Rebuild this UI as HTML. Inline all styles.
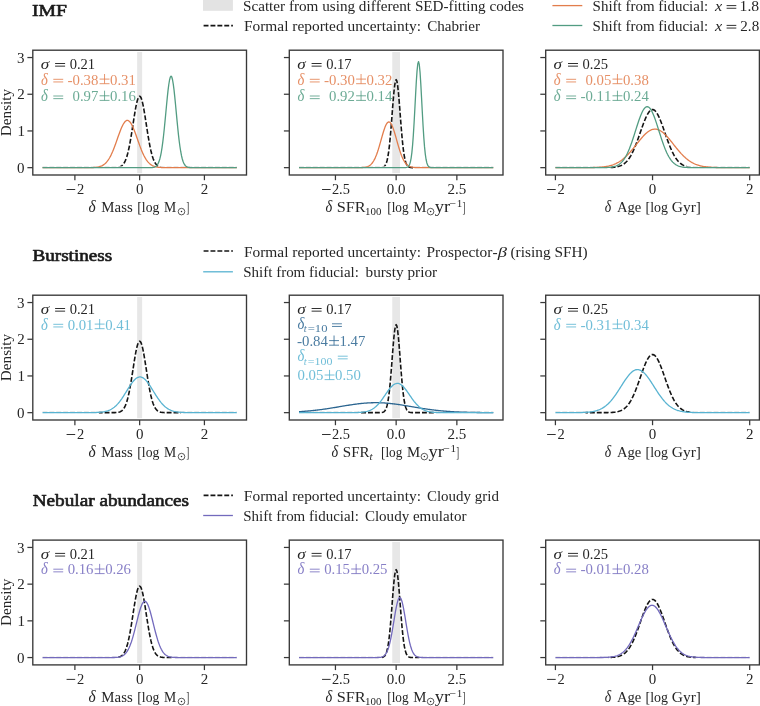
<!DOCTYPE html>
<html><head><meta charset="utf-8"><style>
html,body{margin:0;padding:0;background:#fff;overflow:hidden;}
svg{display:block;will-change:transform;}
text{font-family:"Liberation Serif", serif; font-kerning:none; font-variant-ligatures:none;}
text.t{stroke:#1a1a1a;stroke-width:0.6px;stroke-linejoin:round;}
</style></head><body>
<svg width="760" height="706" viewBox="0 0 760 706">
<rect width="760" height="706" fill="#fff"/>
<rect x="137.16" y="52.04" width="4.99" height="121.13" fill="#e7e7e7"/>
<mask id="m00" maskUnits="userSpaceOnUse" x="0" y="0" width="760" height="706"><rect width="760" height="706" fill="#fff"/><rect x="40.51" y="166.36" width="113.03" height="2.6" fill="#000"/><rect x="159.37" y="166.36" width="95.61" height="2.6" fill="#000"/></mask>
<g mask="url(#m00)">
<path d="M42.51,167.66L43.26,167.66L44.01,167.66L44.76,167.66L45.50,167.66L46.25,167.66L47.00,167.66L47.74,167.66L48.49,167.66L49.24,167.66L49.99,167.66L50.73,167.66L51.48,167.66L52.23,167.66L52.97,167.66L53.72,167.66L54.47,167.66L55.22,167.66L55.96,167.66L56.71,167.66L57.46,167.66L58.20,167.66L58.95,167.66L59.70,167.66L60.45,167.66L61.19,167.66L61.94,167.66L62.69,167.66L63.44,167.66L64.18,167.66L64.93,167.66L65.68,167.66L66.42,167.66L67.17,167.66L67.92,167.66L68.67,167.66L69.41,167.66L70.16,167.66L70.91,167.66L71.65,167.66L72.40,167.66L73.15,167.66L73.90,167.66L74.64,167.66L75.39,167.66L76.14,167.66L76.88,167.66L77.63,167.66L78.38,167.66L79.13,167.66L79.87,167.66L80.62,167.66L81.37,167.66L82.12,167.66L82.86,167.66L83.61,167.66L84.36,167.66L85.10,167.66L85.85,167.66L86.60,167.66L87.35,167.66L88.09,167.66L88.84,167.66L89.59,167.66L90.33,167.66L91.08,167.66L91.83,167.66L92.58,167.66L93.32,167.66L94.07,167.66L94.82,167.66L95.57,167.66L96.31,167.66L97.06,167.66L97.81,167.66L98.55,167.66L99.30,167.66L100.05,167.66L100.80,167.66L101.54,167.66L102.29,167.66L103.04,167.66L103.78,167.66L104.53,167.66L105.28,167.66L106.03,167.66L106.77,167.66L107.52,167.66L108.27,167.66L109.01,167.66L109.76,167.66L110.51,167.65L111.26,167.65L112.00,167.65L112.75,167.64L113.50,167.63L114.25,167.61L114.99,167.59L115.74,167.55L116.49,167.50L117.23,167.42L117.98,167.31L118.73,167.16L119.48,166.95L120.22,166.67L120.97,166.30L121.72,165.80L122.46,165.16L123.21,164.33L123.96,163.29L124.71,161.99L125.45,160.41L126.20,158.49L126.95,156.21L127.69,153.55L128.44,150.49L129.19,147.03L129.94,143.18L130.68,138.97L131.43,134.47L132.18,129.75L132.93,124.90L133.67,120.04L134.42,115.29L135.17,110.80L135.91,106.69L136.66,103.11L137.41,100.19L138.16,98.01L138.90,96.68L139.65,96.23L140.40,96.68L141.14,98.01L141.89,100.19L142.64,103.11L143.39,106.69L144.13,110.80L144.88,115.29L145.63,120.04L146.37,124.90L147.12,129.75L147.87,134.47L148.62,138.97L149.36,143.18L150.11,147.03L150.86,150.49L151.61,153.55L152.35,156.21L153.10,158.49L153.85,160.41L154.59,161.99L155.34,163.29L156.09,164.33L156.84,165.16L157.58,165.80L158.33,166.30L159.08,166.67L159.82,166.95L160.57,167.16L161.32,167.31L162.07,167.42L162.81,167.50L163.56,167.55L164.31,167.59L165.05,167.61L165.80,167.63L166.55,167.64L167.30,167.65L168.04,167.65L168.79,167.65L169.54,167.66L170.29,167.66L171.03,167.66L171.78,167.66L172.53,167.66L173.27,167.66L174.02,167.66L174.77,167.66L175.52,167.66L176.26,167.66L177.01,167.66L177.76,167.66L178.50,167.66L179.25,167.66L180.00,167.66L180.75,167.66L181.49,167.66L182.24,167.66L182.99,167.66L183.73,167.66L184.48,167.66L185.23,167.66L185.98,167.66L186.72,167.66L187.47,167.66L188.22,167.66L188.97,167.66L189.71,167.66L190.46,167.66L191.21,167.66L191.95,167.66L192.70,167.66L193.45,167.66L194.20,167.66L194.94,167.66L195.69,167.66L196.44,167.66L197.18,167.66L197.93,167.66L198.68,167.66L199.43,167.66L200.17,167.66L200.92,167.66L201.67,167.66L202.42,167.66L203.16,167.66L203.91,167.66L204.66,167.66L205.40,167.66L206.15,167.66L206.90,167.66L207.65,167.66L208.39,167.66L209.14,167.66L209.89,167.66L210.63,167.66L211.38,167.66L212.13,167.66L212.88,167.66L213.62,167.66L214.37,167.66L215.12,167.66L215.86,167.66L216.61,167.66L217.36,167.66L218.11,167.66L218.85,167.66L219.60,167.66L220.35,167.66L221.10,167.66L221.84,167.66L222.59,167.66L223.34,167.66L224.08,167.66L224.83,167.66L225.58,167.66L226.33,167.66L227.07,167.66L227.82,167.66L228.57,167.66L229.31,167.66L230.06,167.66L230.81,167.66L231.56,167.66L232.30,167.66L233.05,167.66L233.80,167.66L234.54,167.66L235.29,167.66L236.04,167.66L236.79,167.66" fill="none" stroke="#141414" stroke-width="1.6" stroke-dasharray="4.9,2.0" stroke-linejoin="round"/>
</g>
<path d="M42.51,167.66L43.26,167.66L44.01,167.66L44.76,167.66L45.50,167.66L46.25,167.66L47.00,167.66L47.74,167.66L48.49,167.66L49.24,167.66L49.99,167.66L50.73,167.66L51.48,167.66L52.23,167.66L52.97,167.66L53.72,167.66L54.47,167.66L55.22,167.66L55.96,167.66L56.71,167.66L57.46,167.66L58.20,167.66L58.95,167.66L59.70,167.66L60.45,167.66L61.19,167.66L61.94,167.66L62.69,167.66L63.44,167.66L64.18,167.66L64.93,167.66L65.68,167.66L66.42,167.66L67.17,167.66L67.92,167.66L68.67,167.66L69.41,167.66L70.16,167.66L70.91,167.66L71.65,167.66L72.40,167.66L73.15,167.66L73.90,167.66L74.64,167.66L75.39,167.66L76.14,167.66L76.88,167.66L77.63,167.66L78.38,167.66L79.13,167.66L79.87,167.66L80.62,167.66L81.37,167.66L82.12,167.66L82.86,167.66L83.61,167.66L84.36,167.65L85.10,167.65L85.85,167.65L86.60,167.65L87.35,167.64L88.09,167.64L88.84,167.63L89.59,167.62L90.33,167.61L91.08,167.59L91.83,167.57L92.58,167.54L93.32,167.51L94.07,167.46L94.82,167.41L95.57,167.34L96.31,167.26L97.06,167.16L97.81,167.04L98.55,166.89L99.30,166.71L100.05,166.49L100.80,166.23L101.54,165.92L102.29,165.56L103.04,165.14L103.78,164.65L104.53,164.09L105.28,163.44L106.03,162.71L106.77,161.88L107.52,160.94L108.27,159.90L109.01,158.75L109.76,157.48L110.51,156.09L111.26,154.59L112.00,152.97L112.75,151.25L113.50,149.42L114.25,147.51L114.99,145.51L115.74,143.45L116.49,141.35L117.23,139.22L117.98,137.09L118.73,134.98L119.48,132.92L120.22,130.94L120.97,129.05L121.72,127.29L122.46,125.69L123.21,124.26L123.96,123.04L124.71,122.03L125.45,121.25L126.20,120.73L126.95,120.46L127.69,120.45L128.44,120.70L129.19,121.21L129.94,121.97L130.68,122.96L131.43,124.18L132.18,125.59L132.93,127.18L133.67,128.93L134.42,130.81L135.17,132.79L135.91,134.84L136.66,136.95L137.41,139.08L138.16,141.21L138.90,143.31L139.65,145.37L140.40,147.37L141.14,149.30L141.89,151.13L142.64,152.86L143.39,154.48L144.13,155.99L144.88,157.39L145.63,158.66L146.37,159.83L147.12,160.88L147.87,161.82L148.62,162.66L149.36,163.40L150.11,164.05L150.86,164.62L151.61,165.11L152.35,165.54L153.10,165.90L153.85,166.21L154.59,166.47L155.34,166.69L156.09,166.88L156.84,167.03L157.58,167.15L158.33,167.26L159.08,167.34L159.82,167.41L160.57,167.46L161.32,167.51L162.07,167.54L162.81,167.57L163.56,167.59L164.31,167.61L165.05,167.62L165.80,167.63L166.55,167.64L167.30,167.64L168.04,167.65L168.79,167.65L169.54,167.65L170.29,167.65L171.03,167.66L171.78,167.66L172.53,167.66L173.27,167.66L174.02,167.66L174.77,167.66L175.52,167.66L176.26,167.66L177.01,167.66L177.76,167.66L178.50,167.66L179.25,167.66L180.00,167.66L180.75,167.66L181.49,167.66L182.24,167.66L182.99,167.66L183.73,167.66L184.48,167.66L185.23,167.66L185.98,167.66L186.72,167.66L187.47,167.66L188.22,167.66L188.97,167.66L189.71,167.66L190.46,167.66L191.21,167.66L191.95,167.66L192.70,167.66L193.45,167.66L194.20,167.66L194.94,167.66L195.69,167.66L196.44,167.66L197.18,167.66L197.93,167.66L198.68,167.66L199.43,167.66L200.17,167.66L200.92,167.66L201.67,167.66L202.42,167.66L203.16,167.66L203.91,167.66L204.66,167.66L205.40,167.66L206.15,167.66L206.90,167.66L207.65,167.66L208.39,167.66L209.14,167.66L209.89,167.66L210.63,167.66L211.38,167.66L212.13,167.66L212.88,167.66L213.62,167.66L214.37,167.66L215.12,167.66L215.86,167.66L216.61,167.66L217.36,167.66L218.11,167.66L218.85,167.66L219.60,167.66L220.35,167.66L221.10,167.66L221.84,167.66L222.59,167.66L223.34,167.66L224.08,167.66L224.83,167.66L225.58,167.66L226.33,167.66L227.07,167.66L227.82,167.66L228.57,167.66L229.31,167.66L230.06,167.66L230.81,167.66L231.56,167.66L232.30,167.66L233.05,167.66L233.80,167.66L234.54,167.66L235.29,167.66L236.04,167.66L236.79,167.66" fill="none" stroke="#e27d4c" stroke-width="1.3" stroke-linejoin="round"/>
<path d="M42.51,167.66L43.26,167.66L44.01,167.66L44.76,167.66L45.50,167.66L46.25,167.66L47.00,167.66L47.74,167.66L48.49,167.66L49.24,167.66L49.99,167.66L50.73,167.66L51.48,167.66L52.23,167.66L52.97,167.66L53.72,167.66L54.47,167.66L55.22,167.66L55.96,167.66L56.71,167.66L57.46,167.66L58.20,167.66L58.95,167.66L59.70,167.66L60.45,167.66L61.19,167.66L61.94,167.66L62.69,167.66L63.44,167.66L64.18,167.66L64.93,167.66L65.68,167.66L66.42,167.66L67.17,167.66L67.92,167.66L68.67,167.66L69.41,167.66L70.16,167.66L70.91,167.66L71.65,167.66L72.40,167.66L73.15,167.66L73.90,167.66L74.64,167.66L75.39,167.66L76.14,167.66L76.88,167.66L77.63,167.66L78.38,167.66L79.13,167.66L79.87,167.66L80.62,167.66L81.37,167.66L82.12,167.66L82.86,167.66L83.61,167.66L84.36,167.66L85.10,167.66L85.85,167.66L86.60,167.66L87.35,167.66L88.09,167.66L88.84,167.66L89.59,167.66L90.33,167.66L91.08,167.66L91.83,167.66L92.58,167.66L93.32,167.66L94.07,167.66L94.82,167.66L95.57,167.66L96.31,167.66L97.06,167.66L97.81,167.66L98.55,167.66L99.30,167.66L100.05,167.66L100.80,167.66L101.54,167.66L102.29,167.66L103.04,167.66L103.78,167.66L104.53,167.66L105.28,167.66L106.03,167.66L106.77,167.66L107.52,167.66L108.27,167.66L109.01,167.66L109.76,167.66L110.51,167.66L111.26,167.66L112.00,167.66L112.75,167.66L113.50,167.66L114.25,167.66L114.99,167.66L115.74,167.66L116.49,167.66L117.23,167.66L117.98,167.66L118.73,167.66L119.48,167.66L120.22,167.66L120.97,167.66L121.72,167.66L122.46,167.66L123.21,167.66L123.96,167.66L124.71,167.66L125.45,167.66L126.20,167.66L126.95,167.66L127.69,167.66L128.44,167.66L129.19,167.66L129.94,167.66L130.68,167.66L131.43,167.66L132.18,167.66L132.93,167.66L133.67,167.66L134.42,167.66L135.17,167.66L135.91,167.66L136.66,167.66L137.41,167.66L138.16,167.66L138.90,167.66L139.65,167.66L140.40,167.66L141.14,167.66L141.89,167.66L142.64,167.66L143.39,167.66L144.13,167.66L144.88,167.66L145.63,167.66L146.37,167.66L147.12,167.66L147.87,167.65L148.62,167.65L149.36,167.64L150.11,167.63L150.86,167.61L151.61,167.58L152.35,167.52L153.10,167.43L153.85,167.29L154.59,167.07L155.34,166.74L156.09,166.25L156.84,165.54L157.58,164.55L158.33,163.18L159.08,161.34L159.82,158.94L160.57,155.86L161.32,152.02L162.07,147.36L162.81,141.86L163.56,135.54L164.31,128.49L165.05,120.88L165.80,112.95L166.55,104.98L167.30,97.34L168.04,90.38L168.79,84.49L169.54,79.99L170.29,77.15L171.03,76.14L171.78,77.02L172.53,79.75L173.27,84.14L174.02,89.95L174.77,96.85L175.52,104.46L176.26,112.41L177.01,120.36L177.76,128.00L178.50,135.09L179.25,141.46L180.00,147.02L180.75,151.74L181.49,155.63L182.24,158.75L182.99,161.20L183.73,163.08L184.48,164.47L185.23,165.49L185.98,166.21L186.72,166.71L187.47,167.05L188.22,167.28L188.97,167.43L189.71,167.52L190.46,167.58L191.21,167.61L191.95,167.63L192.70,167.64L193.45,167.65L194.20,167.65L194.94,167.66L195.69,167.66L196.44,167.66L197.18,167.66L197.93,167.66L198.68,167.66L199.43,167.66L200.17,167.66L200.92,167.66L201.67,167.66L202.42,167.66L203.16,167.66L203.91,167.66L204.66,167.66L205.40,167.66L206.15,167.66L206.90,167.66L207.65,167.66L208.39,167.66L209.14,167.66L209.89,167.66L210.63,167.66L211.38,167.66L212.13,167.66L212.88,167.66L213.62,167.66L214.37,167.66L215.12,167.66L215.86,167.66L216.61,167.66L217.36,167.66L218.11,167.66L218.85,167.66L219.60,167.66L220.35,167.66L221.10,167.66L221.84,167.66L222.59,167.66L223.34,167.66L224.08,167.66L224.83,167.66L225.58,167.66L226.33,167.66L227.07,167.66L227.82,167.66L228.57,167.66L229.31,167.66L230.06,167.66L230.81,167.66L231.56,167.66L232.30,167.66L233.05,167.66L233.80,167.66L234.54,167.66L235.29,167.66L236.04,167.66L236.79,167.66" fill="none" stroke="#529c82" stroke-width="1.3" stroke-linejoin="round"/>
<rect x="32.80" y="50.20" width="213.70" height="124.80" fill="none" stroke="#383838" stroke-width="1.35"/>
<line x1="27.40" y1="167.66" x2="32.80" y2="167.66" stroke="#383838" stroke-width="1.25"/>
<text x="17.07" y="172.76" font-size="15.0" fill="#262626" style="">0</text>
<line x1="27.40" y1="130.95" x2="32.80" y2="130.95" stroke="#383838" stroke-width="1.25"/>
<text x="17.40" y="136.05" font-size="15.0" fill="#262626" style="">1</text>
<line x1="27.40" y1="94.25" x2="32.80" y2="94.25" stroke="#383838" stroke-width="1.25"/>
<text x="17.33" y="99.35" font-size="15.0" fill="#262626" style="">2</text>
<line x1="27.40" y1="57.54" x2="32.80" y2="57.54" stroke="#383838" stroke-width="1.25"/>
<text x="17.09" y="62.64" font-size="15.0" fill="#262626" style="">3</text>
<line x1="74.89" y1="175.00" x2="74.89" y2="180.20" stroke="#383838" stroke-width="1.25"/>
<line x1="66.59" y1="189.50" x2="75.19" y2="189.50" stroke="#262626" stroke-width="0.95" />
<text x="76.96" y="193.70" font-size="15.0" fill="#262626" style="" textLength="7.23" lengthAdjust="spacingAndGlyphs">2</text>
<line x1="139.65" y1="175.00" x2="139.65" y2="180.20" stroke="#383838" stroke-width="1.25"/>
<text x="135.90" y="193.70" font-size="15.0" fill="#262626" style="">0</text>
<line x1="204.41" y1="175.00" x2="204.41" y2="180.20" stroke="#383838" stroke-width="1.25"/>
<text x="200.74" y="193.70" font-size="15.0" fill="#262626" style="">2</text>
<text x="40.69" y="68.70" font-size="15.0" fill="#262626" style="font-style:italic;" textLength="8.47" lengthAdjust="spacingAndGlyphs">σ</text>
<g stroke="#262626" stroke-width="0.95"><line x1="55.10" y1="63.50" x2="65.10" y2="63.50"/><line x1="55.10" y1="66.15" x2="65.10" y2="66.15"/></g>
<text x="69.65" y="68.70" font-size="15.0" fill="#262626" style="" textLength="25.46" lengthAdjust="spacingAndGlyphs">0.21</text>
<text fill-opacity="0.85" x="40.97" y="84.50" font-size="16.3" fill="#e27d4c" style="font-style:italic;" textLength="6.84" lengthAdjust="spacingAndGlyphs">δ</text>
<g stroke="#e27d4c" stroke-width="0.95" stroke-opacity="0.85"><line x1="53.30" y1="79.30" x2="63.20" y2="79.30"/><line x1="53.30" y1="81.95" x2="63.20" y2="81.95"/></g>
<text fill-opacity="0.85" x="67.53" y="84.50" font-size="15.0" fill="#e27d4c" style="" textLength="5.13" lengthAdjust="spacingAndGlyphs">-</text>
<text x="72.54" y="84.50" font-size="15.0" fill="#e27d4c" fill-opacity="0.85" textLength="25.86" lengthAdjust="spacingAndGlyphs">0.38</text>
<g stroke="#e27d4c" stroke-width="0.95" stroke-opacity="0.85"><line x1="99.60" y1="79.10" x2="109.50" y2="79.10"/><line x1="99.60" y1="83.70" x2="109.50" y2="83.70"/><line x1="104.55" y1="74.00" x2="104.55" y2="83.70"/></g>
<text x="110.04" y="84.50" font-size="15.0" fill="#e27d4c" fill-opacity="0.85" textLength="25.86" lengthAdjust="spacingAndGlyphs">0.31</text>
<text fill-opacity="0.85" x="40.97" y="101.20" font-size="16.3" fill="#529c82" style="font-style:italic;" textLength="6.84" lengthAdjust="spacingAndGlyphs">δ</text>
<g stroke="#529c82" stroke-width="0.95" stroke-opacity="0.85"><line x1="53.30" y1="96.00" x2="63.20" y2="96.00"/><line x1="53.30" y1="98.65" x2="63.20" y2="98.65"/></g>
<text x="72.54" y="101.20" font-size="15.0" fill="#529c82" fill-opacity="0.85" textLength="25.86" lengthAdjust="spacingAndGlyphs">0.97</text>
<g stroke="#529c82" stroke-width="0.95" stroke-opacity="0.85"><line x1="99.60" y1="95.80" x2="109.50" y2="95.80"/><line x1="99.60" y1="100.40" x2="109.50" y2="100.40"/><line x1="104.55" y1="90.70" x2="104.55" y2="100.40"/></g>
<text x="110.04" y="101.20" font-size="15.0" fill="#529c82" fill-opacity="0.85" textLength="25.86" lengthAdjust="spacingAndGlyphs">0.16</text>
<text x="88.55" y="212.20" font-size="16.3" fill="#262626" style="font-style:italic;" textLength="7.15" lengthAdjust="spacingAndGlyphs">δ</text>
<text x="101.37" y="212.20" font-size="15.6" fill="#262626" style="" textLength="31.36" lengthAdjust="spacingAndGlyphs">Mass</text>
<text x="137.28" y="212.20" font-size="15.6" fill="#262626" style="" textLength="22.08" lengthAdjust="spacingAndGlyphs">[log</text>
<text x="164.00" y="212.20" font-size="15.6" fill="#262626" style="" textLength="12.20" lengthAdjust="spacingAndGlyphs">M</text>
<circle cx="181.50" cy="211.60" r="3.3" fill="none" stroke="#262626" stroke-width="0.75"/>
<circle cx="181.50" cy="211.60" r="0.75" fill="#262626"/>
<text x="186.18" y="212.20" font-size="15.0" fill="#262626" style="" textLength="2.99" lengthAdjust="spacingAndGlyphs">]</text>
<rect x="392.26" y="52.04" width="7.77" height="121.13" fill="#e7e7e7"/>
<mask id="m01" maskUnits="userSpaceOnUse" x="0" y="0" width="760" height="706"><rect width="760" height="706" fill="#fff"/><rect x="297.01" y="166.36" width="110.02" height="2.6" fill="#000"/><rect x="413.54" y="166.36" width="93.89" height="2.6" fill="#000"/></mask>
<g mask="url(#m01)">
<path d="M299.01,167.66L299.76,167.66L300.51,167.66L301.26,167.66L302.00,167.66L302.75,167.66L303.50,167.66L304.24,167.66L304.99,167.66L305.74,167.66L306.49,167.66L307.23,167.66L307.98,167.66L308.73,167.66L309.47,167.66L310.22,167.66L310.97,167.66L311.72,167.66L312.46,167.66L313.21,167.66L313.96,167.66L314.70,167.66L315.45,167.66L316.20,167.66L316.95,167.66L317.69,167.66L318.44,167.66L319.19,167.66L319.94,167.66L320.68,167.66L321.43,167.66L322.18,167.66L322.92,167.66L323.67,167.66L324.42,167.66L325.17,167.66L325.91,167.66L326.66,167.66L327.41,167.66L328.15,167.66L328.90,167.66L329.65,167.66L330.40,167.66L331.14,167.66L331.89,167.66L332.64,167.66L333.38,167.66L334.13,167.66L334.88,167.66L335.63,167.66L336.37,167.66L337.12,167.66L337.87,167.66L338.62,167.66L339.36,167.66L340.11,167.66L340.86,167.66L341.60,167.66L342.35,167.66L343.10,167.66L343.85,167.66L344.59,167.66L345.34,167.66L346.09,167.66L346.83,167.66L347.58,167.66L348.33,167.66L349.08,167.66L349.82,167.66L350.57,167.66L351.32,167.66L352.07,167.66L352.81,167.66L353.56,167.66L354.31,167.66L355.05,167.66L355.80,167.66L356.55,167.66L357.30,167.66L358.04,167.66L358.79,167.66L359.54,167.66L360.28,167.66L361.03,167.66L361.78,167.66L362.53,167.66L363.27,167.66L364.02,167.66L364.77,167.66L365.51,167.66L366.26,167.66L367.01,167.66L367.76,167.66L368.50,167.66L369.25,167.66L370.00,167.66L370.75,167.66L371.49,167.66L372.24,167.66L372.99,167.66L373.73,167.66L374.48,167.66L375.23,167.66L375.98,167.66L376.72,167.66L377.47,167.66L378.22,167.65L378.96,167.65L379.71,167.64L380.46,167.61L381.21,167.56L381.95,167.47L382.70,167.31L383.45,167.03L384.19,166.55L384.94,165.77L385.69,164.56L386.44,162.75L387.18,160.14L387.93,156.52L388.68,151.71L389.43,145.60L390.17,138.17L390.92,129.56L391.67,120.10L392.41,110.27L393.16,100.74L393.91,92.24L394.66,85.52L395.40,81.20L396.15,79.71L396.90,81.20L397.64,85.52L398.39,92.24L399.14,100.74L399.89,110.27L400.63,120.10L401.38,129.56L402.13,138.17L402.87,145.60L403.62,151.71L404.37,156.52L405.12,160.14L405.86,162.75L406.61,164.56L407.36,165.77L408.11,166.55L408.85,167.03L409.60,167.31L410.35,167.47L411.09,167.56L411.84,167.61L412.59,167.64L413.34,167.65L414.08,167.65L414.83,167.66L415.58,167.66L416.32,167.66L417.07,167.66L417.82,167.66L418.57,167.66L419.31,167.66L420.06,167.66L420.81,167.66L421.55,167.66L422.30,167.66L423.05,167.66L423.80,167.66L424.54,167.66L425.29,167.66L426.04,167.66L426.79,167.66L427.53,167.66L428.28,167.66L429.03,167.66L429.77,167.66L430.52,167.66L431.27,167.66L432.02,167.66L432.76,167.66L433.51,167.66L434.26,167.66L435.00,167.66L435.75,167.66L436.50,167.66L437.25,167.66L437.99,167.66L438.74,167.66L439.49,167.66L440.23,167.66L440.98,167.66L441.73,167.66L442.48,167.66L443.22,167.66L443.97,167.66L444.72,167.66L445.47,167.66L446.21,167.66L446.96,167.66L447.71,167.66L448.45,167.66L449.20,167.66L449.95,167.66L450.70,167.66L451.44,167.66L452.19,167.66L452.94,167.66L453.68,167.66L454.43,167.66L455.18,167.66L455.93,167.66L456.67,167.66L457.42,167.66L458.17,167.66L458.92,167.66L459.66,167.66L460.41,167.66L461.16,167.66L461.90,167.66L462.65,167.66L463.40,167.66L464.15,167.66L464.89,167.66L465.64,167.66L466.39,167.66L467.13,167.66L467.88,167.66L468.63,167.66L469.38,167.66L470.12,167.66L470.87,167.66L471.62,167.66L472.36,167.66L473.11,167.66L473.86,167.66L474.61,167.66L475.35,167.66L476.10,167.66L476.85,167.66L477.60,167.66L478.34,167.66L479.09,167.66L479.84,167.66L480.58,167.66L481.33,167.66L482.08,167.66L482.83,167.66L483.57,167.66L484.32,167.66L485.07,167.66L485.81,167.66L486.56,167.66L487.31,167.66L488.06,167.66L488.80,167.66L489.55,167.66L490.30,167.66L491.04,167.66L491.79,167.66L492.54,167.66L493.29,167.66" fill="none" stroke="#141414" stroke-width="1.6" stroke-dasharray="4.9,2.0" stroke-linejoin="round"/>
</g>
<path d="M299.01,167.66L299.76,167.66L300.51,167.66L301.26,167.66L302.00,167.66L302.75,167.66L303.50,167.66L304.24,167.66L304.99,167.66L305.74,167.66L306.49,167.66L307.23,167.66L307.98,167.66L308.73,167.66L309.47,167.66L310.22,167.66L310.97,167.66L311.72,167.66L312.46,167.66L313.21,167.66L313.96,167.66L314.70,167.66L315.45,167.66L316.20,167.66L316.95,167.66L317.69,167.66L318.44,167.66L319.19,167.66L319.94,167.66L320.68,167.66L321.43,167.66L322.18,167.66L322.92,167.66L323.67,167.66L324.42,167.66L325.17,167.66L325.91,167.66L326.66,167.66L327.41,167.66L328.15,167.66L328.90,167.66L329.65,167.66L330.40,167.66L331.14,167.66L331.89,167.66L332.64,167.66L333.38,167.66L334.13,167.66L334.88,167.66L335.63,167.66L336.37,167.66L337.12,167.66L337.87,167.66L338.62,167.66L339.36,167.66L340.11,167.66L340.86,167.66L341.60,167.66L342.35,167.66L343.10,167.66L343.85,167.66L344.59,167.66L345.34,167.66L346.09,167.66L346.83,167.66L347.58,167.66L348.33,167.66L349.08,167.66L349.82,167.66L350.57,167.66L351.32,167.66L352.07,167.66L352.81,167.66L353.56,167.66L354.31,167.66L355.05,167.66L355.80,167.65L356.55,167.65L357.30,167.65L358.04,167.64L358.79,167.63L359.54,167.62L360.28,167.61L361.03,167.58L361.78,167.55L362.53,167.51L363.27,167.46L364.02,167.38L364.77,167.29L365.51,167.16L366.26,166.99L367.01,166.78L367.76,166.52L368.50,166.18L369.25,165.77L370.00,165.26L370.75,164.64L371.49,163.90L372.24,163.02L372.99,161.98L373.73,160.78L374.48,159.41L375.23,157.85L375.98,156.10L376.72,154.16L377.47,152.04L378.22,149.76L378.96,147.33L379.71,144.79L380.46,142.17L381.21,139.50L381.95,136.85L382.70,134.25L383.45,131.77L384.19,129.46L384.94,127.37L385.69,125.56L386.44,124.08L387.18,122.96L387.93,122.23L388.68,121.91L389.43,122.02L390.17,122.54L390.92,123.47L391.67,124.78L392.41,126.43L393.16,128.38L393.91,130.59L394.66,132.99L395.40,135.54L396.15,138.17L396.90,140.84L397.64,143.49L398.39,146.08L399.14,148.56L399.89,150.92L400.63,153.12L401.38,155.15L402.13,156.99L402.87,158.65L403.62,160.12L404.37,161.41L405.12,162.52L405.86,163.48L406.61,164.29L407.36,164.96L408.11,165.52L408.85,165.98L409.60,166.36L410.35,166.66L411.09,166.89L411.84,167.08L412.59,167.23L413.34,167.34L414.08,167.42L414.83,167.49L415.58,167.53L416.32,167.57L417.07,167.60L417.82,167.61L418.57,167.63L419.31,167.64L420.06,167.64L420.81,167.65L421.55,167.65L422.30,167.65L423.05,167.66L423.80,167.66L424.54,167.66L425.29,167.66L426.04,167.66L426.79,167.66L427.53,167.66L428.28,167.66L429.03,167.66L429.77,167.66L430.52,167.66L431.27,167.66L432.02,167.66L432.76,167.66L433.51,167.66L434.26,167.66L435.00,167.66L435.75,167.66L436.50,167.66L437.25,167.66L437.99,167.66L438.74,167.66L439.49,167.66L440.23,167.66L440.98,167.66L441.73,167.66L442.48,167.66L443.22,167.66L443.97,167.66L444.72,167.66L445.47,167.66L446.21,167.66L446.96,167.66L447.71,167.66L448.45,167.66L449.20,167.66L449.95,167.66L450.70,167.66L451.44,167.66L452.19,167.66L452.94,167.66L453.68,167.66L454.43,167.66L455.18,167.66L455.93,167.66L456.67,167.66L457.42,167.66L458.17,167.66L458.92,167.66L459.66,167.66L460.41,167.66L461.16,167.66L461.90,167.66L462.65,167.66L463.40,167.66L464.15,167.66L464.89,167.66L465.64,167.66L466.39,167.66L467.13,167.66L467.88,167.66L468.63,167.66L469.38,167.66L470.12,167.66L470.87,167.66L471.62,167.66L472.36,167.66L473.11,167.66L473.86,167.66L474.61,167.66L475.35,167.66L476.10,167.66L476.85,167.66L477.60,167.66L478.34,167.66L479.09,167.66L479.84,167.66L480.58,167.66L481.33,167.66L482.08,167.66L482.83,167.66L483.57,167.66L484.32,167.66L485.07,167.66L485.81,167.66L486.56,167.66L487.31,167.66L488.06,167.66L488.80,167.66L489.55,167.66L490.30,167.66L491.04,167.66L491.79,167.66L492.54,167.66L493.29,167.66" fill="none" stroke="#e27d4c" stroke-width="1.3" stroke-linejoin="round"/>
<path d="M299.01,167.66L299.76,167.66L300.51,167.66L301.26,167.66L302.00,167.66L302.75,167.66L303.50,167.66L304.24,167.66L304.99,167.66L305.74,167.66L306.49,167.66L307.23,167.66L307.98,167.66L308.73,167.66L309.47,167.66L310.22,167.66L310.97,167.66L311.72,167.66L312.46,167.66L313.21,167.66L313.96,167.66L314.70,167.66L315.45,167.66L316.20,167.66L316.95,167.66L317.69,167.66L318.44,167.66L319.19,167.66L319.94,167.66L320.68,167.66L321.43,167.66L322.18,167.66L322.92,167.66L323.67,167.66L324.42,167.66L325.17,167.66L325.91,167.66L326.66,167.66L327.41,167.66L328.15,167.66L328.90,167.66L329.65,167.66L330.40,167.66L331.14,167.66L331.89,167.66L332.64,167.66L333.38,167.66L334.13,167.66L334.88,167.66L335.63,167.66L336.37,167.66L337.12,167.66L337.87,167.66L338.62,167.66L339.36,167.66L340.11,167.66L340.86,167.66L341.60,167.66L342.35,167.66L343.10,167.66L343.85,167.66L344.59,167.66L345.34,167.66L346.09,167.66L346.83,167.66L347.58,167.66L348.33,167.66L349.08,167.66L349.82,167.66L350.57,167.66L351.32,167.66L352.07,167.66L352.81,167.66L353.56,167.66L354.31,167.66L355.05,167.66L355.80,167.66L356.55,167.66L357.30,167.66L358.04,167.66L358.79,167.66L359.54,167.66L360.28,167.66L361.03,167.66L361.78,167.66L362.53,167.66L363.27,167.66L364.02,167.66L364.77,167.66L365.51,167.66L366.26,167.66L367.01,167.66L367.76,167.66L368.50,167.66L369.25,167.66L370.00,167.66L370.75,167.66L371.49,167.66L372.24,167.66L372.99,167.66L373.73,167.66L374.48,167.66L375.23,167.66L375.98,167.66L376.72,167.66L377.47,167.66L378.22,167.66L378.96,167.66L379.71,167.66L380.46,167.66L381.21,167.66L381.95,167.66L382.70,167.66L383.45,167.66L384.19,167.66L384.94,167.66L385.69,167.66L386.44,167.66L387.18,167.66L387.93,167.66L388.68,167.66L389.43,167.66L390.17,167.66L390.92,167.66L391.67,167.66L392.41,167.66L393.16,167.66L393.91,167.66L394.66,167.66L395.40,167.66L396.15,167.66L396.90,167.66L397.64,167.66L398.39,167.66L399.14,167.66L399.89,167.66L400.63,167.66L401.38,167.66L402.13,167.66L402.87,167.66L403.62,167.65L404.37,167.64L405.12,167.62L405.86,167.57L406.61,167.46L407.36,167.23L408.11,166.79L408.85,165.96L409.60,164.52L410.35,162.12L411.09,158.37L411.84,152.84L412.59,145.17L413.34,135.16L414.08,122.99L414.83,109.24L415.58,94.95L416.32,81.56L417.07,70.65L417.82,63.66L418.57,61.57L419.31,64.69L420.06,72.56L420.81,84.09L421.55,97.79L422.30,112.07L423.05,125.58L423.80,137.35L424.54,146.89L425.29,154.11L426.04,159.25L426.79,162.70L427.53,164.87L428.28,166.17L429.03,166.90L429.77,167.29L430.52,167.49L431.27,167.58L432.02,167.63L432.76,167.65L433.51,167.65L434.26,167.66L435.00,167.66L435.75,167.66L436.50,167.66L437.25,167.66L437.99,167.66L438.74,167.66L439.49,167.66L440.23,167.66L440.98,167.66L441.73,167.66L442.48,167.66L443.22,167.66L443.97,167.66L444.72,167.66L445.47,167.66L446.21,167.66L446.96,167.66L447.71,167.66L448.45,167.66L449.20,167.66L449.95,167.66L450.70,167.66L451.44,167.66L452.19,167.66L452.94,167.66L453.68,167.66L454.43,167.66L455.18,167.66L455.93,167.66L456.67,167.66L457.42,167.66L458.17,167.66L458.92,167.66L459.66,167.66L460.41,167.66L461.16,167.66L461.90,167.66L462.65,167.66L463.40,167.66L464.15,167.66L464.89,167.66L465.64,167.66L466.39,167.66L467.13,167.66L467.88,167.66L468.63,167.66L469.38,167.66L470.12,167.66L470.87,167.66L471.62,167.66L472.36,167.66L473.11,167.66L473.86,167.66L474.61,167.66L475.35,167.66L476.10,167.66L476.85,167.66L477.60,167.66L478.34,167.66L479.09,167.66L479.84,167.66L480.58,167.66L481.33,167.66L482.08,167.66L482.83,167.66L483.57,167.66L484.32,167.66L485.07,167.66L485.81,167.66L486.56,167.66L487.31,167.66L488.06,167.66L488.80,167.66L489.55,167.66L490.30,167.66L491.04,167.66L491.79,167.66L492.54,167.66L493.29,167.66" fill="none" stroke="#529c82" stroke-width="1.3" stroke-linejoin="round"/>
<rect x="289.30" y="50.20" width="213.70" height="124.80" fill="none" stroke="#383838" stroke-width="1.35"/>
<line x1="283.90" y1="167.66" x2="289.30" y2="167.66" stroke="#383838" stroke-width="1.25"/>
<line x1="283.90" y1="130.95" x2="289.30" y2="130.95" stroke="#383838" stroke-width="1.25"/>
<line x1="283.90" y1="94.25" x2="289.30" y2="94.25" stroke="#383838" stroke-width="1.25"/>
<line x1="283.90" y1="57.54" x2="289.30" y2="57.54" stroke="#383838" stroke-width="1.25"/>
<line x1="335.44" y1="175.00" x2="335.44" y2="180.20" stroke="#383838" stroke-width="1.25"/>
<line x1="322.04" y1="189.50" x2="330.64" y2="189.50" stroke="#262626" stroke-width="0.95" />
<text x="331.91" y="193.70" font-size="15.0" fill="#262626" style="" textLength="17.99" lengthAdjust="spacingAndGlyphs">2.5</text>
<line x1="396.15" y1="175.00" x2="396.15" y2="180.20" stroke="#383838" stroke-width="1.25"/>
<text x="386.77" y="193.70" font-size="15.0" fill="#262626" style="">0.0</text>
<line x1="456.86" y1="175.00" x2="456.86" y2="180.20" stroke="#383838" stroke-width="1.25"/>
<text x="447.45" y="193.70" font-size="15.0" fill="#262626" style="">2.5</text>
<text x="297.19" y="68.70" font-size="15.0" fill="#262626" style="font-style:italic;" textLength="8.47" lengthAdjust="spacingAndGlyphs">σ</text>
<g stroke="#262626" stroke-width="0.95"><line x1="311.60" y1="63.50" x2="321.60" y2="63.50"/><line x1="311.60" y1="66.15" x2="321.60" y2="66.15"/></g>
<text x="326.15" y="68.70" font-size="15.0" fill="#262626" style="" textLength="25.46" lengthAdjust="spacingAndGlyphs">0.17</text>
<text fill-opacity="0.85" x="297.47" y="84.50" font-size="16.3" fill="#e27d4c" style="font-style:italic;" textLength="6.84" lengthAdjust="spacingAndGlyphs">δ</text>
<g stroke="#e27d4c" stroke-width="0.95" stroke-opacity="0.85"><line x1="309.80" y1="79.30" x2="319.70" y2="79.30"/><line x1="309.80" y1="81.95" x2="319.70" y2="81.95"/></g>
<text fill-opacity="0.85" x="324.03" y="84.50" font-size="15.0" fill="#e27d4c" style="" textLength="5.13" lengthAdjust="spacingAndGlyphs">-</text>
<text x="329.04" y="84.50" font-size="15.0" fill="#e27d4c" fill-opacity="0.85" textLength="25.86" lengthAdjust="spacingAndGlyphs">0.30</text>
<g stroke="#e27d4c" stroke-width="0.95" stroke-opacity="0.85"><line x1="356.10" y1="79.10" x2="366.00" y2="79.10"/><line x1="356.10" y1="83.70" x2="366.00" y2="83.70"/><line x1="361.05" y1="74.00" x2="361.05" y2="83.70"/></g>
<text x="366.54" y="84.50" font-size="15.0" fill="#e27d4c" fill-opacity="0.85" textLength="25.86" lengthAdjust="spacingAndGlyphs">0.32</text>
<text fill-opacity="0.85" x="297.47" y="101.20" font-size="16.3" fill="#529c82" style="font-style:italic;" textLength="6.84" lengthAdjust="spacingAndGlyphs">δ</text>
<g stroke="#529c82" stroke-width="0.95" stroke-opacity="0.85"><line x1="309.80" y1="96.00" x2="319.70" y2="96.00"/><line x1="309.80" y1="98.65" x2="319.70" y2="98.65"/></g>
<text x="329.04" y="101.20" font-size="15.0" fill="#529c82" fill-opacity="0.85" textLength="25.86" lengthAdjust="spacingAndGlyphs">0.92</text>
<g stroke="#529c82" stroke-width="0.95" stroke-opacity="0.85"><line x1="356.10" y1="95.80" x2="366.00" y2="95.80"/><line x1="356.10" y1="100.40" x2="366.00" y2="100.40"/><line x1="361.05" y1="90.70" x2="361.05" y2="100.40"/></g>
<text x="366.54" y="101.20" font-size="15.0" fill="#529c82" fill-opacity="0.85" textLength="25.86" lengthAdjust="spacingAndGlyphs">0.14</text>
<text x="325.58" y="212.20" font-size="16.3" fill="#262626" style="font-style:italic;" textLength="6.73" lengthAdjust="spacingAndGlyphs">δ</text>
<text x="336.71" y="212.20" font-size="15.6" fill="#262626" style="" textLength="29.01" lengthAdjust="spacingAndGlyphs">SFR</text>
<text x="365.04" y="215.20" font-size="10.5" fill="#262626" style="" textLength="16.38" lengthAdjust="spacingAndGlyphs">100</text>
<text x="387.26" y="212.20" font-size="15.6" fill="#262626" style="" textLength="21.39" lengthAdjust="spacingAndGlyphs">[log</text>
<text x="413.17" y="212.20" font-size="15.6" fill="#262626" style="" textLength="13.16" lengthAdjust="spacingAndGlyphs">M</text>
<circle cx="430.60" cy="211.60" r="3.3" fill="none" stroke="#262626" stroke-width="0.75"/>
<circle cx="430.60" cy="211.60" r="0.75" fill="#262626"/>
<text x="434.67" y="212.20" font-size="16.8" fill="#262626" style="" textLength="15.49" lengthAdjust="spacingAndGlyphs">yr</text>
<text x="449.40" y="206.70" font-size="10.5" fill="#262626" style="" textLength="6.79" lengthAdjust="spacingAndGlyphs">−</text>
<text x="456.83" y="206.70" font-size="10.5" fill="#262626" style="" textLength="5.54" lengthAdjust="spacingAndGlyphs">1</text>
<text x="462.59" y="212.20" font-size="15.0" fill="#262626" style="" textLength="2.84" lengthAdjust="spacingAndGlyphs">]</text>
<mask id="m02" maskUnits="userSpaceOnUse" x="0" y="0" width="760" height="706"><rect width="760" height="706" fill="#fff"/><rect x="553.41" y="166.36" width="55.81" height="2.6" fill="#000"/><rect x="685.28" y="166.36" width="90.69" height="2.6" fill="#000"/></mask>
<g mask="url(#m02)">
<path d="M555.41,167.66L556.16,167.66L556.91,167.66L557.66,167.66L558.40,167.66L559.15,167.66L559.90,167.66L560.64,167.66L561.39,167.66L562.14,167.66L562.89,167.66L563.63,167.66L564.38,167.66L565.13,167.66L565.87,167.66L566.62,167.66L567.37,167.66L568.12,167.66L568.86,167.66L569.61,167.66L570.36,167.66L571.10,167.66L571.85,167.66L572.60,167.66L573.35,167.66L574.09,167.66L574.84,167.66L575.59,167.66L576.34,167.66L577.08,167.66L577.83,167.66L578.58,167.66L579.32,167.66L580.07,167.66L580.82,167.66L581.57,167.66L582.31,167.66L583.06,167.66L583.81,167.66L584.55,167.66L585.30,167.66L586.05,167.66L586.80,167.66L587.54,167.66L588.29,167.66L589.04,167.66L589.78,167.66L590.53,167.66L591.28,167.66L592.03,167.66L592.77,167.66L593.52,167.66L594.27,167.66L595.02,167.66L595.76,167.66L596.51,167.66L597.26,167.66L598.00,167.66L598.75,167.66L599.50,167.65L600.25,167.65L600.99,167.65L601.74,167.65L602.49,167.65L603.23,167.64L603.98,167.64L604.73,167.63L605.48,167.62L606.22,167.61L606.97,167.60L607.72,167.59L608.47,167.57L609.21,167.55L609.96,167.52L610.71,167.49L611.45,167.45L612.20,167.41L612.95,167.35L613.70,167.28L614.44,167.20L615.19,167.11L615.94,167.00L616.68,166.87L617.43,166.71L618.18,166.53L618.93,166.32L619.67,166.08L620.42,165.81L621.17,165.49L621.91,165.13L622.66,164.71L623.41,164.24L624.16,163.72L624.90,163.13L625.65,162.47L626.40,161.73L627.15,160.92L627.89,160.02L628.64,159.04L629.39,157.97L630.13,156.80L630.88,155.54L631.63,154.18L632.38,152.72L633.12,151.17L633.87,149.53L634.62,147.79L635.36,145.98L636.11,144.08L636.86,142.11L637.61,140.08L638.35,138.01L639.10,135.89L639.85,133.75L640.59,131.60L641.34,129.45L642.09,127.33L642.84,125.25L643.58,123.23L644.33,121.28L645.08,119.43L645.83,117.69L646.57,116.08L647.32,114.62L648.07,113.32L648.81,112.19L649.56,111.26L650.31,110.52L651.06,109.98L651.80,109.66L652.55,109.55L653.30,109.66L654.04,109.98L654.79,110.52L655.54,111.26L656.29,112.19L657.03,113.32L657.78,114.62L658.53,116.08L659.27,117.69L660.02,119.43L660.77,121.28L661.52,123.23L662.26,125.25L663.01,127.33L663.76,129.45L664.51,131.60L665.25,133.75L666.00,135.89L666.75,138.01L667.49,140.08L668.24,142.11L668.99,144.08L669.74,145.98L670.48,147.79L671.23,149.53L671.98,151.17L672.72,152.72L673.47,154.18L674.22,155.54L674.97,156.80L675.71,157.97L676.46,159.04L677.21,160.02L677.95,160.92L678.70,161.73L679.45,162.47L680.20,163.13L680.94,163.72L681.69,164.24L682.44,164.71L683.19,165.13L683.93,165.49L684.68,165.81L685.43,166.08L686.17,166.32L686.92,166.53L687.67,166.71L688.42,166.87L689.16,167.00L689.91,167.11L690.66,167.20L691.40,167.28L692.15,167.35L692.90,167.41L693.65,167.45L694.39,167.49L695.14,167.52L695.89,167.55L696.63,167.57L697.38,167.59L698.13,167.60L698.88,167.61L699.62,167.62L700.37,167.63L701.12,167.64L701.87,167.64L702.61,167.65L703.36,167.65L704.11,167.65L704.85,167.65L705.60,167.65L706.35,167.66L707.10,167.66L707.84,167.66L708.59,167.66L709.34,167.66L710.08,167.66L710.83,167.66L711.58,167.66L712.33,167.66L713.07,167.66L713.82,167.66L714.57,167.66L715.32,167.66L716.06,167.66L716.81,167.66L717.56,167.66L718.30,167.66L719.05,167.66L719.80,167.66L720.55,167.66L721.29,167.66L722.04,167.66L722.79,167.66L723.53,167.66L724.28,167.66L725.03,167.66L725.78,167.66L726.52,167.66L727.27,167.66L728.02,167.66L728.76,167.66L729.51,167.66L730.26,167.66L731.01,167.66L731.75,167.66L732.50,167.66L733.25,167.66L734.00,167.66L734.74,167.66L735.49,167.66L736.24,167.66L736.98,167.66L737.73,167.66L738.48,167.66L739.23,167.66L739.97,167.66L740.72,167.66L741.47,167.66L742.21,167.66L742.96,167.66L743.71,167.66L744.46,167.66L745.20,167.66L745.95,167.66L746.70,167.66L747.44,167.66L748.19,167.66L748.94,167.66L749.69,167.66" fill="none" stroke="#141414" stroke-width="1.6" stroke-dasharray="4.9,2.0" stroke-linejoin="round"/>
</g>
<path d="M555.41,167.66L556.16,167.66L556.91,167.66L557.66,167.66L558.40,167.66L559.15,167.66L559.90,167.66L560.64,167.66L561.39,167.66L562.14,167.66L562.89,167.66L563.63,167.66L564.38,167.66L565.13,167.66L565.87,167.66L566.62,167.66L567.37,167.66L568.12,167.66L568.86,167.66L569.61,167.66L570.36,167.66L571.10,167.66L571.85,167.66L572.60,167.66L573.35,167.66L574.09,167.66L574.84,167.66L575.59,167.66L576.34,167.65L577.08,167.65L577.83,167.65L578.58,167.65L579.32,167.65L580.07,167.65L580.82,167.65L581.57,167.64L582.31,167.64L583.06,167.64L583.81,167.64L584.55,167.63L585.30,167.63L586.05,167.62L586.80,167.62L587.54,167.61L588.29,167.60L589.04,167.59L589.78,167.58L590.53,167.57L591.28,167.56L592.03,167.54L592.77,167.53L593.52,167.51L594.27,167.49L595.02,167.46L595.76,167.43L596.51,167.40L597.26,167.37L598.00,167.33L598.75,167.29L599.50,167.24L600.25,167.18L600.99,167.12L601.74,167.06L602.49,166.98L603.23,166.90L603.98,166.81L604.73,166.71L605.48,166.60L606.22,166.48L606.97,166.35L607.72,166.21L608.47,166.05L609.21,165.88L609.96,165.69L610.71,165.49L611.45,165.27L612.20,165.03L612.95,164.78L613.70,164.50L614.44,164.20L615.19,163.89L615.94,163.55L616.68,163.18L617.43,162.79L618.18,162.38L618.93,161.94L619.67,161.48L620.42,160.98L621.17,160.46L621.91,159.92L622.66,159.34L623.41,158.74L624.16,158.10L624.90,157.44L625.65,156.76L626.40,156.04L627.15,155.30L627.89,154.53L628.64,153.74L629.39,152.92L630.13,152.09L630.88,151.23L631.63,150.35L632.38,149.45L633.12,148.55L633.87,147.62L634.62,146.69L635.36,145.75L636.11,144.81L636.86,143.86L637.61,142.92L638.35,141.98L639.10,141.04L639.85,140.12L640.59,139.22L641.34,138.33L642.09,137.46L642.84,136.62L643.58,135.81L644.33,135.03L645.08,134.29L645.83,133.58L646.57,132.92L647.32,132.30L648.07,131.73L648.81,131.21L649.56,130.75L650.31,130.34L651.06,129.98L651.80,129.69L652.55,129.46L653.30,129.28L654.04,129.17L654.79,129.13L655.54,129.14L656.29,129.22L657.03,129.36L657.78,129.56L658.53,129.83L659.27,130.15L660.02,130.54L660.77,130.97L661.52,131.47L662.26,132.01L663.01,132.61L663.76,133.25L664.51,133.93L665.25,134.65L666.00,135.42L666.75,136.21L667.49,137.04L668.24,137.89L668.99,138.77L669.74,139.67L670.48,140.58L671.23,141.51L671.98,142.44L672.72,143.39L673.47,144.33L674.22,145.28L674.97,146.22L675.71,147.16L676.46,148.09L677.21,149.00L677.95,149.90L678.70,150.79L679.45,151.66L680.20,152.51L680.94,153.34L681.69,154.14L682.44,154.92L683.19,155.67L683.93,156.40L684.68,157.10L685.43,157.78L686.17,158.42L686.92,159.04L687.67,159.63L688.42,160.19L689.16,160.73L689.91,161.23L690.66,161.71L691.40,162.16L692.15,162.59L692.90,162.99L693.65,163.37L694.39,163.72L695.14,164.05L695.89,164.36L696.63,164.64L697.38,164.91L698.13,165.15L698.88,165.38L699.62,165.59L700.37,165.79L701.12,165.97L701.87,166.13L702.61,166.28L703.36,166.42L704.11,166.54L704.85,166.66L705.60,166.76L706.35,166.86L707.10,166.94L707.84,167.02L708.59,167.09L709.34,167.16L710.08,167.21L710.83,167.26L711.58,167.31L712.33,167.35L713.07,167.39L713.82,167.42L714.57,167.45L715.32,167.47L716.06,167.50L716.81,167.52L717.56,167.54L718.30,167.55L719.05,167.57L719.80,167.58L720.55,167.59L721.29,167.60L722.04,167.61L722.79,167.61L723.53,167.62L724.28,167.63L725.03,167.63L725.78,167.63L726.52,167.64L727.27,167.64L728.02,167.64L728.76,167.65L729.51,167.65L730.26,167.65L731.01,167.65L731.75,167.65L732.50,167.65L733.25,167.65L734.00,167.65L734.74,167.66L735.49,167.66L736.24,167.66L736.98,167.66L737.73,167.66L738.48,167.66L739.23,167.66L739.97,167.66L740.72,167.66L741.47,167.66L742.21,167.66L742.96,167.66L743.71,167.66L744.46,167.66L745.20,167.66L745.95,167.66L746.70,167.66L747.44,167.66L748.19,167.66L748.94,167.66L749.69,167.66" fill="none" stroke="#e27d4c" stroke-width="1.3" stroke-linejoin="round"/>
<path d="M555.41,167.66L556.16,167.66L556.91,167.66L557.66,167.66L558.40,167.66L559.15,167.66L559.90,167.66L560.64,167.66L561.39,167.66L562.14,167.66L562.89,167.66L563.63,167.66L564.38,167.66L565.13,167.66L565.87,167.66L566.62,167.66L567.37,167.66L568.12,167.66L568.86,167.66L569.61,167.66L570.36,167.66L571.10,167.66L571.85,167.66L572.60,167.66L573.35,167.66L574.09,167.66L574.84,167.66L575.59,167.66L576.34,167.66L577.08,167.66L577.83,167.66L578.58,167.66L579.32,167.66L580.07,167.66L580.82,167.66L581.57,167.66L582.31,167.66L583.06,167.66L583.81,167.66L584.55,167.66L585.30,167.66L586.05,167.66L586.80,167.66L587.54,167.66L588.29,167.66L589.04,167.66L589.78,167.66L590.53,167.66L591.28,167.66L592.03,167.66L592.77,167.66L593.52,167.66L594.27,167.66L595.02,167.66L595.76,167.66L596.51,167.65L597.26,167.65L598.00,167.65L598.75,167.65L599.50,167.64L600.25,167.64L600.99,167.64L601.74,167.63L602.49,167.62L603.23,167.61L603.98,167.60L604.73,167.58L605.48,167.56L606.22,167.53L606.97,167.50L607.72,167.46L608.47,167.42L609.21,167.36L609.96,167.29L610.71,167.21L611.45,167.11L612.20,166.99L612.95,166.85L613.70,166.68L614.44,166.48L615.19,166.26L615.94,165.99L616.68,165.68L617.43,165.32L618.18,164.91L618.93,164.44L619.67,163.91L620.42,163.31L621.17,162.63L621.91,161.86L622.66,161.01L623.41,160.07L624.16,159.02L624.90,157.88L625.65,156.62L626.40,155.26L627.15,153.79L627.89,152.20L628.64,150.50L629.39,148.70L630.13,146.79L630.88,144.78L631.63,142.68L632.38,140.50L633.12,138.26L633.87,135.95L634.62,133.61L635.36,131.24L636.11,128.87L636.86,126.52L637.61,124.20L638.35,121.94L639.10,119.75L639.85,117.67L640.59,115.71L641.34,113.90L642.09,112.25L642.84,110.79L643.58,109.52L644.33,108.47L645.08,107.65L645.83,107.07L646.57,106.73L647.32,106.65L648.07,106.81L648.81,107.22L649.56,107.88L650.31,108.77L651.06,109.88L651.80,111.21L652.55,112.73L653.30,114.43L654.04,116.29L654.79,118.28L655.54,120.40L656.29,122.61L657.03,124.89L657.78,127.22L658.53,129.58L659.27,131.96L660.02,134.32L660.77,136.65L661.52,138.94L662.26,141.16L663.01,143.32L663.76,145.39L664.51,147.37L665.25,149.25L666.00,151.02L666.75,152.69L667.49,154.24L668.24,155.68L668.99,157.01L669.74,158.23L670.48,159.35L671.23,160.36L671.98,161.28L672.72,162.10L673.47,162.84L674.22,163.50L674.97,164.08L675.71,164.59L676.46,165.04L677.21,165.44L677.95,165.78L678.70,166.07L679.45,166.33L680.20,166.55L680.94,166.73L681.69,166.89L682.44,167.03L683.19,167.14L683.93,167.23L684.68,167.31L685.43,167.38L686.17,167.43L686.92,167.47L687.67,167.51L688.42,167.54L689.16,167.57L689.91,167.58L690.66,167.60L691.40,167.61L692.15,167.62L692.90,167.63L693.65,167.64L694.39,167.64L695.14,167.65L695.89,167.65L696.63,167.65L697.38,167.65L698.13,167.65L698.88,167.66L699.62,167.66L700.37,167.66L701.12,167.66L701.87,167.66L702.61,167.66L703.36,167.66L704.11,167.66L704.85,167.66L705.60,167.66L706.35,167.66L707.10,167.66L707.84,167.66L708.59,167.66L709.34,167.66L710.08,167.66L710.83,167.66L711.58,167.66L712.33,167.66L713.07,167.66L713.82,167.66L714.57,167.66L715.32,167.66L716.06,167.66L716.81,167.66L717.56,167.66L718.30,167.66L719.05,167.66L719.80,167.66L720.55,167.66L721.29,167.66L722.04,167.66L722.79,167.66L723.53,167.66L724.28,167.66L725.03,167.66L725.78,167.66L726.52,167.66L727.27,167.66L728.02,167.66L728.76,167.66L729.51,167.66L730.26,167.66L731.01,167.66L731.75,167.66L732.50,167.66L733.25,167.66L734.00,167.66L734.74,167.66L735.49,167.66L736.24,167.66L736.98,167.66L737.73,167.66L738.48,167.66L739.23,167.66L739.97,167.66L740.72,167.66L741.47,167.66L742.21,167.66L742.96,167.66L743.71,167.66L744.46,167.66L745.20,167.66L745.95,167.66L746.70,167.66L747.44,167.66L748.19,167.66L748.94,167.66L749.69,167.66" fill="none" stroke="#529c82" stroke-width="1.3" stroke-linejoin="round"/>
<rect x="545.70" y="50.20" width="213.70" height="124.80" fill="none" stroke="#383838" stroke-width="1.35"/>
<line x1="540.30" y1="167.66" x2="545.70" y2="167.66" stroke="#383838" stroke-width="1.25"/>
<line x1="540.30" y1="130.95" x2="545.70" y2="130.95" stroke="#383838" stroke-width="1.25"/>
<line x1="540.30" y1="94.25" x2="545.70" y2="94.25" stroke="#383838" stroke-width="1.25"/>
<line x1="540.30" y1="57.54" x2="545.70" y2="57.54" stroke="#383838" stroke-width="1.25"/>
<line x1="555.41" y1="175.00" x2="555.41" y2="180.20" stroke="#383838" stroke-width="1.25"/>
<line x1="547.11" y1="189.50" x2="555.71" y2="189.50" stroke="#262626" stroke-width="0.95" />
<text x="557.48" y="193.70" font-size="15.0" fill="#262626" style="" textLength="7.23" lengthAdjust="spacingAndGlyphs">2</text>
<line x1="652.55" y1="175.00" x2="652.55" y2="180.20" stroke="#383838" stroke-width="1.25"/>
<text x="648.80" y="193.70" font-size="15.0" fill="#262626" style="">0</text>
<line x1="749.69" y1="175.00" x2="749.69" y2="180.20" stroke="#383838" stroke-width="1.25"/>
<text x="746.02" y="193.70" font-size="15.0" fill="#262626" style="">2</text>
<text x="553.59" y="68.70" font-size="15.0" fill="#262626" style="font-style:italic;" textLength="8.47" lengthAdjust="spacingAndGlyphs">σ</text>
<g stroke="#262626" stroke-width="0.95"><line x1="568.00" y1="63.50" x2="578.00" y2="63.50"/><line x1="568.00" y1="66.15" x2="578.00" y2="66.15"/></g>
<text x="582.55" y="68.70" font-size="15.0" fill="#262626" style="" textLength="25.46" lengthAdjust="spacingAndGlyphs">0.25</text>
<text fill-opacity="0.85" x="553.87" y="84.50" font-size="16.3" fill="#e27d4c" style="font-style:italic;" textLength="6.84" lengthAdjust="spacingAndGlyphs">δ</text>
<g stroke="#e27d4c" stroke-width="0.95" stroke-opacity="0.85"><line x1="566.20" y1="79.30" x2="576.10" y2="79.30"/><line x1="566.20" y1="81.95" x2="576.10" y2="81.95"/></g>
<text x="585.44" y="84.50" font-size="15.0" fill="#e27d4c" fill-opacity="0.85" textLength="25.86" lengthAdjust="spacingAndGlyphs">0.05</text>
<g stroke="#e27d4c" stroke-width="0.95" stroke-opacity="0.85"><line x1="612.50" y1="79.10" x2="622.40" y2="79.10"/><line x1="612.50" y1="83.70" x2="622.40" y2="83.70"/><line x1="617.45" y1="74.00" x2="617.45" y2="83.70"/></g>
<text x="622.94" y="84.50" font-size="15.0" fill="#e27d4c" fill-opacity="0.85" textLength="25.86" lengthAdjust="spacingAndGlyphs">0.38</text>
<text fill-opacity="0.85" x="553.87" y="101.20" font-size="16.3" fill="#529c82" style="font-style:italic;" textLength="6.84" lengthAdjust="spacingAndGlyphs">δ</text>
<g stroke="#529c82" stroke-width="0.95" stroke-opacity="0.85"><line x1="566.20" y1="96.00" x2="576.10" y2="96.00"/><line x1="566.20" y1="98.65" x2="576.10" y2="98.65"/></g>
<text fill-opacity="0.85" x="580.43" y="101.20" font-size="15.0" fill="#529c82" style="" textLength="5.13" lengthAdjust="spacingAndGlyphs">-</text>
<text x="585.44" y="101.20" font-size="15.0" fill="#529c82" fill-opacity="0.85" textLength="25.86" lengthAdjust="spacingAndGlyphs">0.11</text>
<g stroke="#529c82" stroke-width="0.95" stroke-opacity="0.85"><line x1="612.50" y1="95.80" x2="622.40" y2="95.80"/><line x1="612.50" y1="100.40" x2="622.40" y2="100.40"/><line x1="617.45" y1="90.70" x2="617.45" y2="100.40"/></g>
<text x="622.94" y="101.20" font-size="15.0" fill="#529c82" fill-opacity="0.85" textLength="25.86" lengthAdjust="spacingAndGlyphs">0.24</text>
<text x="604.70" y="212.20" font-size="16.3" fill="#262626" style="font-style:italic;" textLength="6.42" lengthAdjust="spacingAndGlyphs">δ</text>
<text x="616.96" y="212.20" font-size="15.6" fill="#262626" style="" textLength="24.35" lengthAdjust="spacingAndGlyphs">Age</text>
<text x="645.57" y="212.20" font-size="15.6" fill="#262626" style="" textLength="22.40" lengthAdjust="spacingAndGlyphs">[log</text>
<text x="671.76" y="212.20" font-size="15.6" fill="#262626" style="" textLength="29.29" lengthAdjust="spacingAndGlyphs">Gyr]</text>
<text x="0" y="0" font-size="15.6" fill="#262626" textLength="47.30" lengthAdjust="spacingAndGlyphs" transform="translate(11.0,136.14) rotate(-90)">Density</text>
<rect x="137.16" y="297.04" width="4.99" height="121.13" fill="#e7e7e7"/>
<mask id="m10" maskUnits="userSpaceOnUse" x="0" y="0" width="760" height="706"><rect width="760" height="706" fill="#fff"/><rect x="40.51" y="411.36" width="58.44" height="2.6" fill="#000"/><rect x="181.03" y="411.36" width="73.95" height="2.6" fill="#000"/></mask>
<g mask="url(#m10)">
<path d="M42.51,412.66L43.26,412.66L44.01,412.66L44.76,412.66L45.50,412.66L46.25,412.66L47.00,412.66L47.74,412.66L48.49,412.66L49.24,412.66L49.99,412.66L50.73,412.66L51.48,412.66L52.23,412.66L52.97,412.66L53.72,412.66L54.47,412.66L55.22,412.66L55.96,412.66L56.71,412.66L57.46,412.66L58.20,412.66L58.95,412.66L59.70,412.66L60.45,412.66L61.19,412.66L61.94,412.66L62.69,412.66L63.44,412.66L64.18,412.66L64.93,412.66L65.68,412.66L66.42,412.66L67.17,412.66L67.92,412.66L68.67,412.66L69.41,412.66L70.16,412.66L70.91,412.66L71.65,412.66L72.40,412.66L73.15,412.66L73.90,412.66L74.64,412.66L75.39,412.66L76.14,412.66L76.88,412.66L77.63,412.66L78.38,412.66L79.13,412.66L79.87,412.66L80.62,412.66L81.37,412.66L82.12,412.66L82.86,412.66L83.61,412.66L84.36,412.66L85.10,412.66L85.85,412.66L86.60,412.66L87.35,412.66L88.09,412.66L88.84,412.66L89.59,412.66L90.33,412.66L91.08,412.66L91.83,412.66L92.58,412.66L93.32,412.66L94.07,412.66L94.82,412.66L95.57,412.66L96.31,412.66L97.06,412.66L97.81,412.66L98.55,412.66L99.30,412.66L100.05,412.66L100.80,412.66L101.54,412.66L102.29,412.66L103.04,412.66L103.78,412.66L104.53,412.66L105.28,412.66L106.03,412.66L106.77,412.66L107.52,412.66L108.27,412.66L109.01,412.66L109.76,412.66L110.51,412.65L111.26,412.65L112.00,412.65L112.75,412.64L113.50,412.63L114.25,412.61L114.99,412.59L115.74,412.55L116.49,412.50L117.23,412.42L117.98,412.31L118.73,412.16L119.48,411.95L120.22,411.67L120.97,411.30L121.72,410.80L122.46,410.16L123.21,409.33L123.96,408.29L124.71,406.99L125.45,405.41L126.20,403.49L126.95,401.21L127.69,398.55L128.44,395.49L129.19,392.03L129.94,388.18L130.68,383.97L131.43,379.47L132.18,374.75L132.93,369.90L133.67,365.04L134.42,360.29L135.17,355.80L135.91,351.69L136.66,348.11L137.41,345.19L138.16,343.01L138.90,341.68L139.65,341.23L140.40,341.68L141.14,343.01L141.89,345.19L142.64,348.11L143.39,351.69L144.13,355.80L144.88,360.29L145.63,365.04L146.37,369.90L147.12,374.75L147.87,379.47L148.62,383.97L149.36,388.18L150.11,392.03L150.86,395.49L151.61,398.55L152.35,401.21L153.10,403.49L153.85,405.41L154.59,406.99L155.34,408.29L156.09,409.33L156.84,410.16L157.58,410.80L158.33,411.30L159.08,411.67L159.82,411.95L160.57,412.16L161.32,412.31L162.07,412.42L162.81,412.50L163.56,412.55L164.31,412.59L165.05,412.61L165.80,412.63L166.55,412.64L167.30,412.65L168.04,412.65L168.79,412.65L169.54,412.66L170.29,412.66L171.03,412.66L171.78,412.66L172.53,412.66L173.27,412.66L174.02,412.66L174.77,412.66L175.52,412.66L176.26,412.66L177.01,412.66L177.76,412.66L178.50,412.66L179.25,412.66L180.00,412.66L180.75,412.66L181.49,412.66L182.24,412.66L182.99,412.66L183.73,412.66L184.48,412.66L185.23,412.66L185.98,412.66L186.72,412.66L187.47,412.66L188.22,412.66L188.97,412.66L189.71,412.66L190.46,412.66L191.21,412.66L191.95,412.66L192.70,412.66L193.45,412.66L194.20,412.66L194.94,412.66L195.69,412.66L196.44,412.66L197.18,412.66L197.93,412.66L198.68,412.66L199.43,412.66L200.17,412.66L200.92,412.66L201.67,412.66L202.42,412.66L203.16,412.66L203.91,412.66L204.66,412.66L205.40,412.66L206.15,412.66L206.90,412.66L207.65,412.66L208.39,412.66L209.14,412.66L209.89,412.66L210.63,412.66L211.38,412.66L212.13,412.66L212.88,412.66L213.62,412.66L214.37,412.66L215.12,412.66L215.86,412.66L216.61,412.66L217.36,412.66L218.11,412.66L218.85,412.66L219.60,412.66L220.35,412.66L221.10,412.66L221.84,412.66L222.59,412.66L223.34,412.66L224.08,412.66L224.83,412.66L225.58,412.66L226.33,412.66L227.07,412.66L227.82,412.66L228.57,412.66L229.31,412.66L230.06,412.66L230.81,412.66L231.56,412.66L232.30,412.66L233.05,412.66L233.80,412.66L234.54,412.66L235.29,412.66L236.04,412.66L236.79,412.66" fill="none" stroke="#141414" stroke-width="1.6" stroke-dasharray="4.9,2.0" stroke-linejoin="round"/>
</g>
<path d="M42.51,412.66L43.26,412.66L44.01,412.66L44.76,412.66L45.50,412.66L46.25,412.66L47.00,412.66L47.74,412.66L48.49,412.66L49.24,412.66L49.99,412.66L50.73,412.66L51.48,412.66L52.23,412.66L52.97,412.66L53.72,412.66L54.47,412.66L55.22,412.66L55.96,412.66L56.71,412.66L57.46,412.66L58.20,412.66L58.95,412.66L59.70,412.66L60.45,412.66L61.19,412.66L61.94,412.66L62.69,412.66L63.44,412.66L64.18,412.66L64.93,412.66L65.68,412.66L66.42,412.66L67.17,412.66L67.92,412.66L68.67,412.66L69.41,412.66L70.16,412.66L70.91,412.66L71.65,412.66L72.40,412.66L73.15,412.66L73.90,412.66L74.64,412.66L75.39,412.66L76.14,412.66L76.88,412.66L77.63,412.66L78.38,412.66L79.13,412.66L79.87,412.66L80.62,412.66L81.37,412.66L82.12,412.66L82.86,412.66L83.61,412.65L84.36,412.65L85.10,412.65L85.85,412.65L86.60,412.65L87.35,412.65L88.09,412.64L88.84,412.64L89.59,412.63L90.33,412.63L91.08,412.62L91.83,412.61L92.58,412.60L93.32,412.58L94.07,412.57L94.82,412.55L95.57,412.53L96.31,412.50L97.06,412.47L97.81,412.43L98.55,412.38L99.30,412.33L100.05,412.27L100.80,412.20L101.54,412.12L102.29,412.02L103.04,411.91L103.78,411.79L104.53,411.65L105.28,411.48L106.03,411.30L106.77,411.09L107.52,410.86L108.27,410.60L109.01,410.30L109.76,409.98L110.51,409.62L111.26,409.22L112.00,408.78L112.75,408.30L113.50,407.77L114.25,407.20L114.99,406.58L115.74,405.91L116.49,405.19L117.23,404.42L117.98,403.60L118.73,402.73L119.48,401.82L120.22,400.85L120.97,399.84L121.72,398.79L122.46,397.69L123.21,396.56L123.96,395.41L124.71,394.22L125.45,393.02L126.20,391.81L126.95,390.59L127.69,389.37L128.44,388.17L129.19,386.98L129.94,385.82L130.68,384.70L131.43,383.62L132.18,382.60L132.93,381.64L133.67,380.75L134.42,379.94L135.17,379.21L135.91,378.57L136.66,378.04L137.41,377.60L138.16,377.28L138.90,377.06L139.65,376.95L140.40,376.96L141.14,377.08L141.89,377.31L142.64,377.66L143.39,378.10L144.13,378.65L144.88,379.30L145.63,380.04L146.37,380.86L147.12,381.76L147.87,382.73L148.62,383.76L149.36,384.85L150.11,385.98L150.86,387.14L151.61,388.33L152.35,389.54L153.10,390.75L153.85,391.97L154.59,393.18L155.34,394.38L156.09,395.56L156.84,396.72L157.58,397.84L158.33,398.93L159.08,399.98L159.82,400.98L160.57,401.94L161.32,402.85L162.07,403.72L162.81,404.53L163.56,405.29L164.31,406.00L165.05,406.66L165.80,407.28L166.55,407.84L167.30,408.36L168.04,408.84L168.79,409.27L169.54,409.67L170.29,410.02L171.03,410.35L171.78,410.63L172.53,410.89L173.27,411.12L174.02,411.33L174.77,411.51L175.52,411.67L176.26,411.81L177.01,411.93L177.76,412.04L178.50,412.13L179.25,412.21L180.00,412.28L180.75,412.34L181.49,412.39L182.24,412.43L182.99,412.47L183.73,412.50L184.48,412.53L185.23,412.55L185.98,412.57L186.72,412.59L187.47,412.60L188.22,412.61L188.97,412.62L189.71,412.63L190.46,412.63L191.21,412.64L191.95,412.64L192.70,412.65L193.45,412.65L194.20,412.65L194.94,412.65L195.69,412.65L196.44,412.65L197.18,412.66L197.93,412.66L198.68,412.66L199.43,412.66L200.17,412.66L200.92,412.66L201.67,412.66L202.42,412.66L203.16,412.66L203.91,412.66L204.66,412.66L205.40,412.66L206.15,412.66L206.90,412.66L207.65,412.66L208.39,412.66L209.14,412.66L209.89,412.66L210.63,412.66L211.38,412.66L212.13,412.66L212.88,412.66L213.62,412.66L214.37,412.66L215.12,412.66L215.86,412.66L216.61,412.66L217.36,412.66L218.11,412.66L218.85,412.66L219.60,412.66L220.35,412.66L221.10,412.66L221.84,412.66L222.59,412.66L223.34,412.66L224.08,412.66L224.83,412.66L225.58,412.66L226.33,412.66L227.07,412.66L227.82,412.66L228.57,412.66L229.31,412.66L230.06,412.66L230.81,412.66L231.56,412.66L232.30,412.66L233.05,412.66L233.80,412.66L234.54,412.66L235.29,412.66L236.04,412.66L236.79,412.66" fill="none" stroke="#58b3d1" stroke-width="1.3" stroke-linejoin="round"/>
<rect x="32.80" y="295.20" width="213.70" height="124.80" fill="none" stroke="#383838" stroke-width="1.35"/>
<line x1="27.40" y1="412.66" x2="32.80" y2="412.66" stroke="#383838" stroke-width="1.25"/>
<text x="17.07" y="417.76" font-size="15.0" fill="#262626" style="">0</text>
<line x1="27.40" y1="375.95" x2="32.80" y2="375.95" stroke="#383838" stroke-width="1.25"/>
<text x="17.40" y="381.05" font-size="15.0" fill="#262626" style="">1</text>
<line x1="27.40" y1="339.25" x2="32.80" y2="339.25" stroke="#383838" stroke-width="1.25"/>
<text x="17.33" y="344.35" font-size="15.0" fill="#262626" style="">2</text>
<line x1="27.40" y1="302.54" x2="32.80" y2="302.54" stroke="#383838" stroke-width="1.25"/>
<text x="17.09" y="307.64" font-size="15.0" fill="#262626" style="">3</text>
<line x1="74.89" y1="420.00" x2="74.89" y2="425.20" stroke="#383838" stroke-width="1.25"/>
<line x1="66.59" y1="434.50" x2="75.19" y2="434.50" stroke="#262626" stroke-width="0.95" />
<text x="76.96" y="438.70" font-size="15.0" fill="#262626" style="" textLength="7.23" lengthAdjust="spacingAndGlyphs">2</text>
<line x1="139.65" y1="420.00" x2="139.65" y2="425.20" stroke="#383838" stroke-width="1.25"/>
<text x="135.90" y="438.70" font-size="15.0" fill="#262626" style="">0</text>
<line x1="204.41" y1="420.00" x2="204.41" y2="425.20" stroke="#383838" stroke-width="1.25"/>
<text x="200.74" y="438.70" font-size="15.0" fill="#262626" style="">2</text>
<text x="40.69" y="313.70" font-size="15.0" fill="#262626" style="font-style:italic;" textLength="8.47" lengthAdjust="spacingAndGlyphs">σ</text>
<g stroke="#262626" stroke-width="0.95"><line x1="55.10" y1="308.50" x2="65.10" y2="308.50"/><line x1="55.10" y1="311.15" x2="65.10" y2="311.15"/></g>
<text x="69.65" y="313.70" font-size="15.0" fill="#262626" style="" textLength="25.46" lengthAdjust="spacingAndGlyphs">0.21</text>
<text fill-opacity="0.85" x="40.97" y="329.50" font-size="16.3" fill="#58b3d1" style="font-style:italic;" textLength="6.84" lengthAdjust="spacingAndGlyphs">δ</text>
<g stroke="#58b3d1" stroke-width="0.95" stroke-opacity="0.85"><line x1="53.30" y1="324.30" x2="63.20" y2="324.30"/><line x1="53.30" y1="326.95" x2="63.20" y2="326.95"/></g>
<text x="67.64" y="329.50" font-size="15.0" fill="#58b3d1" fill-opacity="0.85" textLength="25.86" lengthAdjust="spacingAndGlyphs">0.01</text>
<g stroke="#58b3d1" stroke-width="0.95" stroke-opacity="0.85"><line x1="94.70" y1="324.10" x2="104.60" y2="324.10"/><line x1="94.70" y1="328.70" x2="104.60" y2="328.70"/><line x1="99.65" y1="319.00" x2="99.65" y2="328.70"/></g>
<text x="105.14" y="329.50" font-size="15.0" fill="#58b3d1" fill-opacity="0.85" textLength="25.86" lengthAdjust="spacingAndGlyphs">0.41</text>
<text x="88.55" y="457.20" font-size="16.3" fill="#262626" style="font-style:italic;" textLength="7.15" lengthAdjust="spacingAndGlyphs">δ</text>
<text x="101.37" y="457.20" font-size="15.6" fill="#262626" style="" textLength="31.36" lengthAdjust="spacingAndGlyphs">Mass</text>
<text x="137.28" y="457.20" font-size="15.6" fill="#262626" style="" textLength="22.08" lengthAdjust="spacingAndGlyphs">[log</text>
<text x="164.00" y="457.20" font-size="15.6" fill="#262626" style="" textLength="12.20" lengthAdjust="spacingAndGlyphs">M</text>
<circle cx="181.50" cy="456.60" r="3.3" fill="none" stroke="#262626" stroke-width="0.75"/>
<circle cx="181.50" cy="456.60" r="0.75" fill="#262626"/>
<text x="186.18" y="457.20" font-size="15.0" fill="#262626" style="" textLength="2.99" lengthAdjust="spacingAndGlyphs">]</text>
<rect x="392.26" y="297.04" width="7.77" height="121.13" fill="#e7e7e7"/>
<mask id="m11" maskUnits="userSpaceOnUse" x="0" y="0" width="760" height="706"><rect width="760" height="706" fill="#fff"/><rect x="297.01" y="411.36" width="63.68" height="2.6" fill="#000"/><rect x="434.13" y="411.36" width="73.30" height="2.6" fill="#000"/></mask>
<g mask="url(#m11)">
<path d="M299.01,412.66L299.76,412.66L300.51,412.66L301.26,412.66L302.00,412.66L302.75,412.66L303.50,412.66L304.24,412.66L304.99,412.66L305.74,412.66L306.49,412.66L307.23,412.66L307.98,412.66L308.73,412.66L309.47,412.66L310.22,412.66L310.97,412.66L311.72,412.66L312.46,412.66L313.21,412.66L313.96,412.66L314.70,412.66L315.45,412.66L316.20,412.66L316.95,412.66L317.69,412.66L318.44,412.66L319.19,412.66L319.94,412.66L320.68,412.66L321.43,412.66L322.18,412.66L322.92,412.66L323.67,412.66L324.42,412.66L325.17,412.66L325.91,412.66L326.66,412.66L327.41,412.66L328.15,412.66L328.90,412.66L329.65,412.66L330.40,412.66L331.14,412.66L331.89,412.66L332.64,412.66L333.38,412.66L334.13,412.66L334.88,412.66L335.63,412.66L336.37,412.66L337.12,412.66L337.87,412.66L338.62,412.66L339.36,412.66L340.11,412.66L340.86,412.66L341.60,412.66L342.35,412.66L343.10,412.66L343.85,412.66L344.59,412.66L345.34,412.66L346.09,412.66L346.83,412.66L347.58,412.66L348.33,412.66L349.08,412.66L349.82,412.66L350.57,412.66L351.32,412.66L352.07,412.66L352.81,412.66L353.56,412.66L354.31,412.66L355.05,412.66L355.80,412.66L356.55,412.66L357.30,412.66L358.04,412.66L358.79,412.66L359.54,412.66L360.28,412.66L361.03,412.66L361.78,412.66L362.53,412.66L363.27,412.66L364.02,412.66L364.77,412.66L365.51,412.66L366.26,412.66L367.01,412.66L367.76,412.66L368.50,412.66L369.25,412.66L370.00,412.66L370.75,412.66L371.49,412.66L372.24,412.66L372.99,412.66L373.73,412.66L374.48,412.66L375.23,412.66L375.98,412.66L376.72,412.66L377.47,412.66L378.22,412.65L378.96,412.65L379.71,412.64L380.46,412.61L381.21,412.56L381.95,412.47L382.70,412.31L383.45,412.03L384.19,411.55L384.94,410.77L385.69,409.56L386.44,407.75L387.18,405.14L387.93,401.52L388.68,396.71L389.43,390.60L390.17,383.17L390.92,374.56L391.67,365.10L392.41,355.27L393.16,345.74L393.91,337.24L394.66,330.52L395.40,326.20L396.15,324.71L396.90,326.20L397.64,330.52L398.39,337.24L399.14,345.74L399.89,355.27L400.63,365.10L401.38,374.56L402.13,383.17L402.87,390.60L403.62,396.71L404.37,401.52L405.12,405.14L405.86,407.75L406.61,409.56L407.36,410.77L408.11,411.55L408.85,412.03L409.60,412.31L410.35,412.47L411.09,412.56L411.84,412.61L412.59,412.64L413.34,412.65L414.08,412.65L414.83,412.66L415.58,412.66L416.32,412.66L417.07,412.66L417.82,412.66L418.57,412.66L419.31,412.66L420.06,412.66L420.81,412.66L421.55,412.66L422.30,412.66L423.05,412.66L423.80,412.66L424.54,412.66L425.29,412.66L426.04,412.66L426.79,412.66L427.53,412.66L428.28,412.66L429.03,412.66L429.77,412.66L430.52,412.66L431.27,412.66L432.02,412.66L432.76,412.66L433.51,412.66L434.26,412.66L435.00,412.66L435.75,412.66L436.50,412.66L437.25,412.66L437.99,412.66L438.74,412.66L439.49,412.66L440.23,412.66L440.98,412.66L441.73,412.66L442.48,412.66L443.22,412.66L443.97,412.66L444.72,412.66L445.47,412.66L446.21,412.66L446.96,412.66L447.71,412.66L448.45,412.66L449.20,412.66L449.95,412.66L450.70,412.66L451.44,412.66L452.19,412.66L452.94,412.66L453.68,412.66L454.43,412.66L455.18,412.66L455.93,412.66L456.67,412.66L457.42,412.66L458.17,412.66L458.92,412.66L459.66,412.66L460.41,412.66L461.16,412.66L461.90,412.66L462.65,412.66L463.40,412.66L464.15,412.66L464.89,412.66L465.64,412.66L466.39,412.66L467.13,412.66L467.88,412.66L468.63,412.66L469.38,412.66L470.12,412.66L470.87,412.66L471.62,412.66L472.36,412.66L473.11,412.66L473.86,412.66L474.61,412.66L475.35,412.66L476.10,412.66L476.85,412.66L477.60,412.66L478.34,412.66L479.09,412.66L479.84,412.66L480.58,412.66L481.33,412.66L482.08,412.66L482.83,412.66L483.57,412.66L484.32,412.66L485.07,412.66L485.81,412.66L486.56,412.66L487.31,412.66L488.06,412.66L488.80,412.66L489.55,412.66L490.30,412.66L491.04,412.66L491.79,412.66L492.54,412.66L493.29,412.66" fill="none" stroke="#141414" stroke-width="1.6" stroke-dasharray="4.9,2.0" stroke-linejoin="round"/>
</g>
<path d="M299.01,411.67L299.76,411.63L300.51,411.58L301.26,411.53L302.00,411.48L302.75,411.43L303.50,411.37L304.24,411.32L304.99,411.26L305.74,411.20L306.49,411.14L307.23,411.08L307.98,411.02L308.73,410.95L309.47,410.88L310.22,410.81L310.97,410.74L311.72,410.67L312.46,410.59L313.21,410.51L313.96,410.43L314.70,410.35L315.45,410.27L316.20,410.18L316.95,410.09L317.69,410.00L318.44,409.91L319.19,409.82L319.94,409.72L320.68,409.63L321.43,409.53L322.18,409.43L322.92,409.33L323.67,409.22L324.42,409.12L325.17,409.01L325.91,408.90L326.66,408.79L327.41,408.68L328.15,408.56L328.90,408.45L329.65,408.33L330.40,408.21L331.14,408.10L331.89,407.98L332.64,407.85L333.38,407.73L334.13,407.61L334.88,407.49L335.63,407.36L336.37,407.24L337.12,407.11L337.87,406.99L338.62,406.86L339.36,406.73L340.11,406.61L340.86,406.48L341.60,406.35L342.35,406.23L343.10,406.10L343.85,405.98L344.59,405.85L345.34,405.73L346.09,405.61L346.83,405.48L347.58,405.36L348.33,405.24L349.08,405.12L349.82,405.01L350.57,404.89L351.32,404.78L352.07,404.67L352.81,404.56L353.56,404.45L354.31,404.34L355.05,404.24L355.80,404.14L356.55,404.04L357.30,403.94L358.04,403.85L358.79,403.76L359.54,403.67L360.28,403.59L361.03,403.51L361.78,403.43L362.53,403.36L363.27,403.29L364.02,403.22L364.77,403.16L365.51,403.10L366.26,403.04L367.01,402.99L367.76,402.94L368.50,402.90L369.25,402.86L370.00,402.83L370.75,402.79L371.49,402.77L372.24,402.75L372.99,402.73L373.73,402.71L374.48,402.70L375.23,402.70L375.98,402.70L376.72,402.70L377.47,402.71L378.22,402.72L378.96,402.74L379.71,402.76L380.46,402.78L381.21,402.81L381.95,402.85L382.70,402.88L383.45,402.93L384.19,402.97L384.94,403.02L385.69,403.08L386.44,403.13L387.18,403.20L387.93,403.26L388.68,403.33L389.43,403.40L390.17,403.48L390.92,403.56L391.67,403.64L392.41,403.73L393.16,403.81L393.91,403.91L394.66,404.00L395.40,404.10L396.15,404.20L396.90,404.30L397.64,404.41L398.39,404.51L399.14,404.62L399.89,404.73L400.63,404.85L401.38,404.96L402.13,405.08L402.87,405.19L403.62,405.31L404.37,405.43L405.12,405.56L405.86,405.68L406.61,405.80L407.36,405.93L408.11,406.05L408.85,406.18L409.60,406.30L410.35,406.43L411.09,406.56L411.84,406.68L412.59,406.81L413.34,406.94L414.08,407.06L414.83,407.19L415.58,407.31L416.32,407.44L417.07,407.56L417.82,407.68L418.57,407.81L419.31,407.93L420.06,408.05L420.81,408.17L421.55,408.29L422.30,408.40L423.05,408.52L423.80,408.63L424.54,408.74L425.29,408.86L426.04,408.97L426.79,409.07L427.53,409.18L428.28,409.28L429.03,409.39L429.77,409.49L430.52,409.59L431.27,409.69L432.02,409.78L432.76,409.88L433.51,409.97L434.26,410.06L435.00,410.15L435.75,410.23L436.50,410.32L437.25,410.40L437.99,410.48L438.74,410.56L439.49,410.64L440.23,410.71L440.98,410.78L441.73,410.85L442.48,410.92L443.22,410.99L443.97,411.05L444.72,411.12L445.47,411.18L446.21,411.24L446.96,411.30L447.71,411.35L448.45,411.41L449.20,411.46L449.95,411.51L450.70,411.56L451.44,411.61L452.19,411.65L452.94,411.70L453.68,411.74L454.43,411.78L455.18,411.82L455.93,411.86L456.67,411.90L457.42,411.93L458.17,411.97L458.92,412.00L459.66,412.03L460.41,412.06L461.16,412.09L461.90,412.12L462.65,412.14L463.40,412.17L464.15,412.19L464.89,412.22L465.64,412.24L466.39,412.26L467.13,412.28L467.88,412.30L468.63,412.32L469.38,412.34L470.12,412.36L470.87,412.37L471.62,412.39L472.36,412.40L473.11,412.42L473.86,412.43L474.61,412.44L475.35,412.46L476.10,412.47L476.85,412.48L477.60,412.49L478.34,412.50L479.09,412.51L479.84,412.52L480.58,412.53L481.33,412.53L482.08,412.54L482.83,412.55L483.57,412.55L484.32,412.56L485.07,412.57L485.81,412.57L486.56,412.58L487.31,412.58L488.06,412.59L488.80,412.59L489.55,412.60L490.30,412.60L491.04,412.60L491.79,412.61L492.54,412.61L493.29,412.61" fill="none" stroke="#2b6590" stroke-width="1.3" stroke-linejoin="round"/>
<path d="M299.01,412.66L299.76,412.66L300.51,412.66L301.26,412.66L302.00,412.66L302.75,412.66L303.50,412.66L304.24,412.66L304.99,412.66L305.74,412.66L306.49,412.66L307.23,412.66L307.98,412.66L308.73,412.66L309.47,412.66L310.22,412.66L310.97,412.66L311.72,412.66L312.46,412.66L313.21,412.66L313.96,412.66L314.70,412.66L315.45,412.66L316.20,412.66L316.95,412.66L317.69,412.66L318.44,412.66L319.19,412.66L319.94,412.66L320.68,412.66L321.43,412.66L322.18,412.66L322.92,412.66L323.67,412.66L324.42,412.66L325.17,412.66L325.91,412.66L326.66,412.66L327.41,412.66L328.15,412.66L328.90,412.66L329.65,412.66L330.40,412.66L331.14,412.66L331.89,412.66L332.64,412.66L333.38,412.66L334.13,412.66L334.88,412.66L335.63,412.66L336.37,412.66L337.12,412.66L337.87,412.66L338.62,412.66L339.36,412.66L340.11,412.66L340.86,412.66L341.60,412.66L342.35,412.66L343.10,412.66L343.85,412.66L344.59,412.66L345.34,412.66L346.09,412.65L346.83,412.65L347.58,412.65L348.33,412.65L349.08,412.65L349.82,412.65L350.57,412.64L351.32,412.64L352.07,412.63L352.81,412.62L353.56,412.62L354.31,412.60L355.05,412.59L355.80,412.58L356.55,412.56L357.30,412.53L358.04,412.50L358.79,412.47L359.54,412.43L360.28,412.38L361.03,412.33L361.78,412.26L362.53,412.18L363.27,412.09L364.02,411.98L364.77,411.86L365.51,411.72L366.26,411.56L367.01,411.37L367.76,411.16L368.50,410.92L369.25,410.65L370.00,410.35L370.75,410.01L371.49,409.63L372.24,409.22L372.99,408.76L373.73,408.25L374.48,407.70L375.23,407.10L375.98,406.45L376.72,405.75L377.47,405.01L378.22,404.21L378.96,403.37L379.71,402.48L380.46,401.55L381.21,400.58L381.95,399.57L382.70,398.53L383.45,397.47L384.19,396.39L384.94,395.31L385.69,394.21L386.44,393.13L387.18,392.05L387.93,391.00L388.68,389.98L389.43,389.01L390.17,388.08L390.92,387.22L391.67,386.42L392.41,385.71L393.16,385.07L393.91,384.53L394.66,384.09L395.40,383.75L396.15,383.52L396.90,383.39L397.64,383.38L398.39,383.48L399.14,383.68L399.89,384.00L400.63,384.41L401.38,384.93L402.13,385.54L402.87,386.24L403.62,387.01L404.37,387.86L405.12,388.77L405.86,389.74L406.61,390.74L407.36,391.79L408.11,392.86L408.85,393.94L409.60,395.03L410.35,396.12L411.09,397.21L411.84,398.27L412.59,399.31L413.34,400.33L414.08,401.31L414.83,402.25L415.58,403.15L416.32,404.01L417.07,404.81L417.82,405.57L418.57,406.28L419.31,406.94L420.06,407.55L420.81,408.12L421.55,408.63L422.30,409.11L423.05,409.53L423.80,409.92L424.54,410.27L425.29,410.58L426.04,410.86L426.79,411.10L427.53,411.32L428.28,411.51L429.03,411.68L429.77,411.83L430.52,411.96L431.27,412.07L432.02,412.16L432.76,412.24L433.51,412.31L434.26,412.37L435.00,412.42L435.75,412.46L436.50,412.50L437.25,412.53L437.99,412.55L438.74,412.57L439.49,412.59L440.23,412.60L440.98,412.61L441.73,412.62L442.48,412.63L443.22,412.64L443.97,412.64L444.72,412.64L445.47,412.65L446.21,412.65L446.96,412.65L447.71,412.65L448.45,412.65L449.20,412.66L449.95,412.66L450.70,412.66L451.44,412.66L452.19,412.66L452.94,412.66L453.68,412.66L454.43,412.66L455.18,412.66L455.93,412.66L456.67,412.66L457.42,412.66L458.17,412.66L458.92,412.66L459.66,412.66L460.41,412.66L461.16,412.66L461.90,412.66L462.65,412.66L463.40,412.66L464.15,412.66L464.89,412.66L465.64,412.66L466.39,412.66L467.13,412.66L467.88,412.66L468.63,412.66L469.38,412.66L470.12,412.66L470.87,412.66L471.62,412.66L472.36,412.66L473.11,412.66L473.86,412.66L474.61,412.66L475.35,412.66L476.10,412.66L476.85,412.66L477.60,412.66L478.34,412.66L479.09,412.66L479.84,412.66L480.58,412.66L481.33,412.66L482.08,412.66L482.83,412.66L483.57,412.66L484.32,412.66L485.07,412.66L485.81,412.66L486.56,412.66L487.31,412.66L488.06,412.66L488.80,412.66L489.55,412.66L490.30,412.66L491.04,412.66L491.79,412.66L492.54,412.66L493.29,412.66" fill="none" stroke="#58b3d1" stroke-width="1.3" stroke-linejoin="round"/>
<rect x="289.30" y="295.20" width="213.70" height="124.80" fill="none" stroke="#383838" stroke-width="1.35"/>
<line x1="283.90" y1="412.66" x2="289.30" y2="412.66" stroke="#383838" stroke-width="1.25"/>
<line x1="283.90" y1="375.95" x2="289.30" y2="375.95" stroke="#383838" stroke-width="1.25"/>
<line x1="283.90" y1="339.25" x2="289.30" y2="339.25" stroke="#383838" stroke-width="1.25"/>
<line x1="283.90" y1="302.54" x2="289.30" y2="302.54" stroke="#383838" stroke-width="1.25"/>
<line x1="335.44" y1="420.00" x2="335.44" y2="425.20" stroke="#383838" stroke-width="1.25"/>
<line x1="322.04" y1="434.50" x2="330.64" y2="434.50" stroke="#262626" stroke-width="0.95" />
<text x="331.91" y="438.70" font-size="15.0" fill="#262626" style="" textLength="17.99" lengthAdjust="spacingAndGlyphs">2.5</text>
<line x1="396.15" y1="420.00" x2="396.15" y2="425.20" stroke="#383838" stroke-width="1.25"/>
<text x="386.77" y="438.70" font-size="15.0" fill="#262626" style="">0.0</text>
<line x1="456.86" y1="420.00" x2="456.86" y2="425.20" stroke="#383838" stroke-width="1.25"/>
<text x="447.45" y="438.70" font-size="15.0" fill="#262626" style="">2.5</text>
<text x="297.19" y="313.70" font-size="15.0" fill="#262626" style="font-style:italic;" textLength="8.47" lengthAdjust="spacingAndGlyphs">σ</text>
<g stroke="#262626" stroke-width="0.95"><line x1="311.60" y1="308.50" x2="321.60" y2="308.50"/><line x1="311.60" y1="311.15" x2="321.60" y2="311.15"/></g>
<text x="326.15" y="313.70" font-size="15.0" fill="#262626" style="" textLength="25.46" lengthAdjust="spacingAndGlyphs">0.17</text>
<text fill-opacity="0.85" x="297.47" y="329.00" font-size="16.3" fill="#2b6590" style="font-style:italic;" textLength="6.84" lengthAdjust="spacingAndGlyphs">δ</text>
<text fill-opacity="0.85" x="303.84" y="332.30" font-size="10.5" fill="#2b6590" style="font-style:italic;">t</text>
<text fill-opacity="0.85" x="307.67" y="332.30" font-size="10.5" fill="#2b6590" style="" textLength="19.81" lengthAdjust="spacingAndGlyphs">=10</text>
<g stroke="#2b6590" stroke-width="0.95" stroke-opacity="0.85"><line x1="332.00" y1="323.80" x2="341.90" y2="323.80"/><line x1="332.00" y1="326.45" x2="341.90" y2="326.45"/></g>
<text fill-opacity="0.85" x="297.03" y="346.00" font-size="15.0" fill="#2b6590" style="" textLength="5.13" lengthAdjust="spacingAndGlyphs">-</text>
<text x="302.04" y="346.00" font-size="15.0" fill="#2b6590" fill-opacity="0.85" textLength="25.86" lengthAdjust="spacingAndGlyphs">0.84</text>
<g stroke="#2b6590" stroke-width="0.95" stroke-opacity="0.85"><line x1="329.10" y1="340.60" x2="339.00" y2="340.60"/><line x1="329.10" y1="345.20" x2="339.00" y2="345.20"/><line x1="334.05" y1="335.50" x2="334.05" y2="345.20"/></g>
<text x="339.54" y="346.00" font-size="15.0" fill="#2b6590" fill-opacity="0.85" textLength="25.86" lengthAdjust="spacingAndGlyphs">1.47</text>
<text fill-opacity="0.85" x="297.47" y="361.40" font-size="16.3" fill="#58b3d1" style="font-style:italic;" textLength="6.84" lengthAdjust="spacingAndGlyphs">δ</text>
<text fill-opacity="0.85" x="303.84" y="364.70" font-size="10.5" fill="#58b3d1" style="font-style:italic;">t</text>
<text fill-opacity="0.85" x="307.70" y="364.70" font-size="10.5" fill="#58b3d1" style="" textLength="24.75" lengthAdjust="spacingAndGlyphs">=100</text>
<g stroke="#58b3d1" stroke-width="0.95" stroke-opacity="0.85"><line x1="337.80" y1="356.20" x2="347.70" y2="356.20"/><line x1="337.80" y1="358.85" x2="347.70" y2="358.85"/></g>
<text x="297.54" y="380.40" font-size="15.0" fill="#58b3d1" fill-opacity="0.85" textLength="25.86" lengthAdjust="spacingAndGlyphs">0.05</text>
<g stroke="#58b3d1" stroke-width="0.95" stroke-opacity="0.85"><line x1="324.60" y1="375.00" x2="334.50" y2="375.00"/><line x1="324.60" y1="379.60" x2="334.50" y2="379.60"/><line x1="329.55" y1="369.90" x2="329.55" y2="379.60"/></g>
<text x="335.04" y="380.40" font-size="15.0" fill="#58b3d1" fill-opacity="0.85" textLength="25.86" lengthAdjust="spacingAndGlyphs">0.50</text>
<text x="331.48" y="457.20" font-size="16.3" fill="#262626" style="font-style:italic;" textLength="6.63" lengthAdjust="spacingAndGlyphs">δ</text>
<text x="342.80" y="457.20" font-size="15.6" fill="#262626" style="" textLength="26.73" lengthAdjust="spacingAndGlyphs">SFR</text>
<text x="369.52" y="460.20" font-size="11" fill="#262626" style="font-style:italic;">t</text>
<text x="381.01" y="457.20" font-size="15.6" fill="#262626" style="" textLength="21.39" lengthAdjust="spacingAndGlyphs">[log</text>
<text x="406.92" y="457.20" font-size="15.6" fill="#262626" style="" textLength="13.16" lengthAdjust="spacingAndGlyphs">M</text>
<circle cx="424.35" cy="456.60" r="3.3" fill="none" stroke="#262626" stroke-width="0.75"/>
<circle cx="424.35" cy="456.60" r="0.75" fill="#262626"/>
<text x="428.42" y="457.20" font-size="16.8" fill="#262626" style="" textLength="15.49" lengthAdjust="spacingAndGlyphs">yr</text>
<text x="443.15" y="451.70" font-size="10.5" fill="#262626" style="" textLength="6.79" lengthAdjust="spacingAndGlyphs">−</text>
<text x="450.58" y="451.70" font-size="10.5" fill="#262626" style="" textLength="5.54" lengthAdjust="spacingAndGlyphs">1</text>
<text x="456.34" y="457.20" font-size="15.0" fill="#262626" style="" textLength="2.84" lengthAdjust="spacingAndGlyphs">]</text>
<mask id="m12" maskUnits="userSpaceOnUse" x="0" y="0" width="760" height="706"><rect width="760" height="706" fill="#fff"/><rect x="553.41" y="411.36" width="32.11" height="2.6" fill="#000"/><rect x="689.56" y="411.36" width="86.41" height="2.6" fill="#000"/></mask>
<g mask="url(#m12)">
<path d="M555.41,412.66L556.16,412.66L556.91,412.66L557.66,412.66L558.40,412.66L559.15,412.66L559.90,412.66L560.64,412.66L561.39,412.66L562.14,412.66L562.89,412.66L563.63,412.66L564.38,412.66L565.13,412.66L565.87,412.66L566.62,412.66L567.37,412.66L568.12,412.66L568.86,412.66L569.61,412.66L570.36,412.66L571.10,412.66L571.85,412.66L572.60,412.66L573.35,412.66L574.09,412.66L574.84,412.66L575.59,412.66L576.34,412.66L577.08,412.66L577.83,412.66L578.58,412.66L579.32,412.66L580.07,412.66L580.82,412.66L581.57,412.66L582.31,412.66L583.06,412.66L583.81,412.66L584.55,412.66L585.30,412.66L586.05,412.66L586.80,412.66L587.54,412.66L588.29,412.66L589.04,412.66L589.78,412.66L590.53,412.66L591.28,412.66L592.03,412.66L592.77,412.66L593.52,412.66L594.27,412.66L595.02,412.66L595.76,412.66L596.51,412.66L597.26,412.66L598.00,412.66L598.75,412.66L599.50,412.65L600.25,412.65L600.99,412.65L601.74,412.65L602.49,412.65L603.23,412.64L603.98,412.64L604.73,412.63L605.48,412.62L606.22,412.61L606.97,412.60L607.72,412.59L608.47,412.57L609.21,412.55L609.96,412.52L610.71,412.49L611.45,412.45L612.20,412.41L612.95,412.35L613.70,412.28L614.44,412.20L615.19,412.11L615.94,412.00L616.68,411.87L617.43,411.71L618.18,411.53L618.93,411.32L619.67,411.08L620.42,410.81L621.17,410.49L621.91,410.13L622.66,409.71L623.41,409.24L624.16,408.72L624.90,408.13L625.65,407.47L626.40,406.73L627.15,405.92L627.89,405.02L628.64,404.04L629.39,402.97L630.13,401.80L630.88,400.54L631.63,399.18L632.38,397.72L633.12,396.17L633.87,394.53L634.62,392.79L635.36,390.98L636.11,389.08L636.86,387.11L637.61,385.08L638.35,383.01L639.10,380.89L639.85,378.75L640.59,376.60L641.34,374.45L642.09,372.33L642.84,370.25L643.58,368.23L644.33,366.28L645.08,364.43L645.83,362.69L646.57,361.08L647.32,359.62L648.07,358.32L648.81,357.19L649.56,356.26L650.31,355.52L651.06,354.98L651.80,354.66L652.55,354.55L653.30,354.66L654.04,354.98L654.79,355.52L655.54,356.26L656.29,357.19L657.03,358.32L657.78,359.62L658.53,361.08L659.27,362.69L660.02,364.43L660.77,366.28L661.52,368.23L662.26,370.25L663.01,372.33L663.76,374.45L664.51,376.60L665.25,378.75L666.00,380.89L666.75,383.01L667.49,385.08L668.24,387.11L668.99,389.08L669.74,390.98L670.48,392.79L671.23,394.53L671.98,396.17L672.72,397.72L673.47,399.18L674.22,400.54L674.97,401.80L675.71,402.97L676.46,404.04L677.21,405.02L677.95,405.92L678.70,406.73L679.45,407.47L680.20,408.13L680.94,408.72L681.69,409.24L682.44,409.71L683.19,410.13L683.93,410.49L684.68,410.81L685.43,411.08L686.17,411.32L686.92,411.53L687.67,411.71L688.42,411.87L689.16,412.00L689.91,412.11L690.66,412.20L691.40,412.28L692.15,412.35L692.90,412.41L693.65,412.45L694.39,412.49L695.14,412.52L695.89,412.55L696.63,412.57L697.38,412.59L698.13,412.60L698.88,412.61L699.62,412.62L700.37,412.63L701.12,412.64L701.87,412.64L702.61,412.65L703.36,412.65L704.11,412.65L704.85,412.65L705.60,412.65L706.35,412.66L707.10,412.66L707.84,412.66L708.59,412.66L709.34,412.66L710.08,412.66L710.83,412.66L711.58,412.66L712.33,412.66L713.07,412.66L713.82,412.66L714.57,412.66L715.32,412.66L716.06,412.66L716.81,412.66L717.56,412.66L718.30,412.66L719.05,412.66L719.80,412.66L720.55,412.66L721.29,412.66L722.04,412.66L722.79,412.66L723.53,412.66L724.28,412.66L725.03,412.66L725.78,412.66L726.52,412.66L727.27,412.66L728.02,412.66L728.76,412.66L729.51,412.66L730.26,412.66L731.01,412.66L731.75,412.66L732.50,412.66L733.25,412.66L734.00,412.66L734.74,412.66L735.49,412.66L736.24,412.66L736.98,412.66L737.73,412.66L738.48,412.66L739.23,412.66L739.97,412.66L740.72,412.66L741.47,412.66L742.21,412.66L742.96,412.66L743.71,412.66L744.46,412.66L745.20,412.66L745.95,412.66L746.70,412.66L747.44,412.66L748.19,412.66L748.94,412.66L749.69,412.66" fill="none" stroke="#141414" stroke-width="1.6" stroke-dasharray="4.9,2.0" stroke-linejoin="round"/>
</g>
<path d="M555.41,412.66L556.16,412.66L556.91,412.66L557.66,412.66L558.40,412.66L559.15,412.66L559.90,412.66L560.64,412.66L561.39,412.66L562.14,412.66L562.89,412.66L563.63,412.66L564.38,412.66L565.13,412.66L565.87,412.66L566.62,412.65L567.37,412.65L568.12,412.65L568.86,412.65L569.61,412.65L570.36,412.65L571.10,412.65L571.85,412.64L572.60,412.64L573.35,412.64L574.09,412.63L574.84,412.63L575.59,412.62L576.34,412.61L577.08,412.61L577.83,412.60L578.58,412.58L579.32,412.57L580.07,412.56L580.82,412.54L581.57,412.52L582.31,412.50L583.06,412.47L583.81,412.44L584.55,412.41L585.30,412.37L586.05,412.32L586.80,412.27L587.54,412.21L588.29,412.15L589.04,412.08L589.78,412.00L590.53,411.90L591.28,411.80L592.03,411.69L592.77,411.56L593.52,411.42L594.27,411.26L595.02,411.08L595.76,410.89L596.51,410.68L597.26,410.45L598.00,410.19L598.75,409.91L599.50,409.61L600.25,409.28L600.99,408.92L601.74,408.53L602.49,408.11L603.23,407.65L603.98,407.17L604.73,406.64L605.48,406.08L606.22,405.49L606.97,404.86L607.72,404.18L608.47,403.47L609.21,402.72L609.96,401.93L610.71,401.10L611.45,400.24L612.20,399.33L612.95,398.39L613.70,397.41L614.44,396.40L615.19,395.36L615.94,394.29L616.68,393.19L617.43,392.07L618.18,390.93L618.93,389.77L619.67,388.60L620.42,387.42L621.17,386.24L621.91,385.06L622.66,383.89L623.41,382.72L624.16,381.58L624.90,380.45L625.65,379.36L626.40,378.29L627.15,377.27L627.89,376.29L628.64,375.36L629.39,374.48L630.13,373.66L630.88,372.91L631.63,372.22L632.38,371.61L633.12,371.07L633.87,370.61L634.62,370.24L635.36,369.95L636.11,369.74L636.86,369.62L637.61,369.59L638.35,369.65L639.10,369.79L639.85,370.02L640.59,370.34L641.34,370.74L642.09,371.23L642.84,371.79L643.58,372.42L644.33,373.13L645.08,373.90L645.83,374.74L646.57,375.63L647.32,376.58L648.07,377.57L648.81,378.61L649.56,379.68L650.31,380.79L651.06,381.92L651.80,383.07L652.55,384.24L653.30,385.41L654.04,386.60L654.79,387.78L655.54,388.95L656.29,390.12L657.03,391.27L657.78,392.41L658.53,393.52L659.27,394.61L660.02,395.68L660.77,396.71L661.52,397.71L662.26,398.68L663.01,399.61L663.76,400.50L664.51,401.36L665.25,402.17L666.00,402.95L666.75,403.69L667.49,404.39L668.24,405.05L668.99,405.67L669.74,406.26L670.48,406.80L671.23,407.32L671.98,407.79L672.72,408.24L673.47,408.65L674.22,409.03L674.97,409.38L675.71,409.70L676.46,410.00L677.21,410.27L677.95,410.52L678.70,410.74L679.45,410.95L680.20,411.14L680.94,411.31L681.69,411.46L682.44,411.60L683.19,411.72L683.93,411.83L684.68,411.93L685.43,412.02L686.17,412.10L686.92,412.17L687.67,412.23L688.42,412.29L689.16,412.34L689.91,412.38L690.66,412.42L691.40,412.45L692.15,412.48L692.90,412.50L693.65,412.53L694.39,412.55L695.14,412.56L695.89,412.58L696.63,412.59L697.38,412.60L698.13,412.61L698.88,412.62L699.62,412.62L700.37,412.63L701.12,412.63L701.87,412.64L702.61,412.64L703.36,412.64L704.11,412.65L704.85,412.65L705.60,412.65L706.35,412.65L707.10,412.65L707.84,412.65L708.59,412.65L709.34,412.66L710.08,412.66L710.83,412.66L711.58,412.66L712.33,412.66L713.07,412.66L713.82,412.66L714.57,412.66L715.32,412.66L716.06,412.66L716.81,412.66L717.56,412.66L718.30,412.66L719.05,412.66L719.80,412.66L720.55,412.66L721.29,412.66L722.04,412.66L722.79,412.66L723.53,412.66L724.28,412.66L725.03,412.66L725.78,412.66L726.52,412.66L727.27,412.66L728.02,412.66L728.76,412.66L729.51,412.66L730.26,412.66L731.01,412.66L731.75,412.66L732.50,412.66L733.25,412.66L734.00,412.66L734.74,412.66L735.49,412.66L736.24,412.66L736.98,412.66L737.73,412.66L738.48,412.66L739.23,412.66L739.97,412.66L740.72,412.66L741.47,412.66L742.21,412.66L742.96,412.66L743.71,412.66L744.46,412.66L745.20,412.66L745.95,412.66L746.70,412.66L747.44,412.66L748.19,412.66L748.94,412.66L749.69,412.66" fill="none" stroke="#58b3d1" stroke-width="1.3" stroke-linejoin="round"/>
<rect x="545.70" y="295.20" width="213.70" height="124.80" fill="none" stroke="#383838" stroke-width="1.35"/>
<line x1="540.30" y1="412.66" x2="545.70" y2="412.66" stroke="#383838" stroke-width="1.25"/>
<line x1="540.30" y1="375.95" x2="545.70" y2="375.95" stroke="#383838" stroke-width="1.25"/>
<line x1="540.30" y1="339.25" x2="545.70" y2="339.25" stroke="#383838" stroke-width="1.25"/>
<line x1="540.30" y1="302.54" x2="545.70" y2="302.54" stroke="#383838" stroke-width="1.25"/>
<line x1="555.41" y1="420.00" x2="555.41" y2="425.20" stroke="#383838" stroke-width="1.25"/>
<line x1="547.11" y1="434.50" x2="555.71" y2="434.50" stroke="#262626" stroke-width="0.95" />
<text x="557.48" y="438.70" font-size="15.0" fill="#262626" style="" textLength="7.23" lengthAdjust="spacingAndGlyphs">2</text>
<line x1="652.55" y1="420.00" x2="652.55" y2="425.20" stroke="#383838" stroke-width="1.25"/>
<text x="648.80" y="438.70" font-size="15.0" fill="#262626" style="">0</text>
<line x1="749.69" y1="420.00" x2="749.69" y2="425.20" stroke="#383838" stroke-width="1.25"/>
<text x="746.02" y="438.70" font-size="15.0" fill="#262626" style="">2</text>
<text x="553.59" y="313.70" font-size="15.0" fill="#262626" style="font-style:italic;" textLength="8.47" lengthAdjust="spacingAndGlyphs">σ</text>
<g stroke="#262626" stroke-width="0.95"><line x1="568.00" y1="308.50" x2="578.00" y2="308.50"/><line x1="568.00" y1="311.15" x2="578.00" y2="311.15"/></g>
<text x="582.55" y="313.70" font-size="15.0" fill="#262626" style="" textLength="25.46" lengthAdjust="spacingAndGlyphs">0.25</text>
<text fill-opacity="0.85" x="553.87" y="329.50" font-size="16.3" fill="#58b3d1" style="font-style:italic;" textLength="6.84" lengthAdjust="spacingAndGlyphs">δ</text>
<g stroke="#58b3d1" stroke-width="0.95" stroke-opacity="0.85"><line x1="566.20" y1="324.30" x2="576.10" y2="324.30"/><line x1="566.20" y1="326.95" x2="576.10" y2="326.95"/></g>
<text fill-opacity="0.85" x="580.43" y="329.50" font-size="15.0" fill="#58b3d1" style="" textLength="5.13" lengthAdjust="spacingAndGlyphs">-</text>
<text x="585.44" y="329.50" font-size="15.0" fill="#58b3d1" fill-opacity="0.85" textLength="25.86" lengthAdjust="spacingAndGlyphs">0.31</text>
<g stroke="#58b3d1" stroke-width="0.95" stroke-opacity="0.85"><line x1="612.50" y1="324.10" x2="622.40" y2="324.10"/><line x1="612.50" y1="328.70" x2="622.40" y2="328.70"/><line x1="617.45" y1="319.00" x2="617.45" y2="328.70"/></g>
<text x="622.94" y="329.50" font-size="15.0" fill="#58b3d1" fill-opacity="0.85" textLength="25.86" lengthAdjust="spacingAndGlyphs">0.34</text>
<text x="604.70" y="457.20" font-size="16.3" fill="#262626" style="font-style:italic;" textLength="6.42" lengthAdjust="spacingAndGlyphs">δ</text>
<text x="616.96" y="457.20" font-size="15.6" fill="#262626" style="" textLength="24.35" lengthAdjust="spacingAndGlyphs">Age</text>
<text x="645.57" y="457.20" font-size="15.6" fill="#262626" style="" textLength="22.40" lengthAdjust="spacingAndGlyphs">[log</text>
<text x="671.76" y="457.20" font-size="15.6" fill="#262626" style="" textLength="29.29" lengthAdjust="spacingAndGlyphs">Gyr]</text>
<text x="0" y="0" font-size="15.6" fill="#262626" textLength="47.30" lengthAdjust="spacingAndGlyphs" transform="translate(11.0,381.14) rotate(-90)">Density</text>
<rect x="137.16" y="541.94" width="4.99" height="121.13" fill="#e7e7e7"/>
<mask id="m20" maskUnits="userSpaceOnUse" x="0" y="0" width="760" height="706"><rect width="760" height="706" fill="#fff"/><rect x="40.51" y="656.26" width="77.09" height="2.6" fill="#000"/><rect x="172.09" y="656.26" width="82.88" height="2.6" fill="#000"/></mask>
<g mask="url(#m20)">
<path d="M42.51,657.56L43.26,657.56L44.01,657.56L44.76,657.56L45.50,657.56L46.25,657.56L47.00,657.56L47.74,657.56L48.49,657.56L49.24,657.56L49.99,657.56L50.73,657.56L51.48,657.56L52.23,657.56L52.97,657.56L53.72,657.56L54.47,657.56L55.22,657.56L55.96,657.56L56.71,657.56L57.46,657.56L58.20,657.56L58.95,657.56L59.70,657.56L60.45,657.56L61.19,657.56L61.94,657.56L62.69,657.56L63.44,657.56L64.18,657.56L64.93,657.56L65.68,657.56L66.42,657.56L67.17,657.56L67.92,657.56L68.67,657.56L69.41,657.56L70.16,657.56L70.91,657.56L71.65,657.56L72.40,657.56L73.15,657.56L73.90,657.56L74.64,657.56L75.39,657.56L76.14,657.56L76.88,657.56L77.63,657.56L78.38,657.56L79.13,657.56L79.87,657.56L80.62,657.56L81.37,657.56L82.12,657.56L82.86,657.56L83.61,657.56L84.36,657.56L85.10,657.56L85.85,657.56L86.60,657.56L87.35,657.56L88.09,657.56L88.84,657.56L89.59,657.56L90.33,657.56L91.08,657.56L91.83,657.56L92.58,657.56L93.32,657.56L94.07,657.56L94.82,657.56L95.57,657.56L96.31,657.56L97.06,657.56L97.81,657.56L98.55,657.56L99.30,657.56L100.05,657.56L100.80,657.56L101.54,657.56L102.29,657.56L103.04,657.56L103.78,657.56L104.53,657.56L105.28,657.56L106.03,657.56L106.77,657.56L107.52,657.56L108.27,657.56L109.01,657.56L109.76,657.56L110.51,657.55L111.26,657.55L112.00,657.55L112.75,657.54L113.50,657.53L114.25,657.51L114.99,657.49L115.74,657.45L116.49,657.40L117.23,657.32L117.98,657.21L118.73,657.06L119.48,656.85L120.22,656.57L120.97,656.20L121.72,655.70L122.46,655.06L123.21,654.23L123.96,653.19L124.71,651.89L125.45,650.31L126.20,648.39L126.95,646.11L127.69,643.45L128.44,640.39L129.19,636.93L129.94,633.08L130.68,628.87L131.43,624.37L132.18,619.65L132.93,614.80L133.67,609.94L134.42,605.19L135.17,600.70L135.91,596.59L136.66,593.01L137.41,590.09L138.16,587.91L138.90,586.58L139.65,586.13L140.40,586.58L141.14,587.91L141.89,590.09L142.64,593.01L143.39,596.59L144.13,600.70L144.88,605.19L145.63,609.94L146.37,614.80L147.12,619.65L147.87,624.37L148.62,628.87L149.36,633.08L150.11,636.93L150.86,640.39L151.61,643.45L152.35,646.11L153.10,648.39L153.85,650.31L154.59,651.89L155.34,653.19L156.09,654.23L156.84,655.06L157.58,655.70L158.33,656.20L159.08,656.57L159.82,656.85L160.57,657.06L161.32,657.21L162.07,657.32L162.81,657.40L163.56,657.45L164.31,657.49L165.05,657.51L165.80,657.53L166.55,657.54L167.30,657.55L168.04,657.55L168.79,657.55L169.54,657.56L170.29,657.56L171.03,657.56L171.78,657.56L172.53,657.56L173.27,657.56L174.02,657.56L174.77,657.56L175.52,657.56L176.26,657.56L177.01,657.56L177.76,657.56L178.50,657.56L179.25,657.56L180.00,657.56L180.75,657.56L181.49,657.56L182.24,657.56L182.99,657.56L183.73,657.56L184.48,657.56L185.23,657.56L185.98,657.56L186.72,657.56L187.47,657.56L188.22,657.56L188.97,657.56L189.71,657.56L190.46,657.56L191.21,657.56L191.95,657.56L192.70,657.56L193.45,657.56L194.20,657.56L194.94,657.56L195.69,657.56L196.44,657.56L197.18,657.56L197.93,657.56L198.68,657.56L199.43,657.56L200.17,657.56L200.92,657.56L201.67,657.56L202.42,657.56L203.16,657.56L203.91,657.56L204.66,657.56L205.40,657.56L206.15,657.56L206.90,657.56L207.65,657.56L208.39,657.56L209.14,657.56L209.89,657.56L210.63,657.56L211.38,657.56L212.13,657.56L212.88,657.56L213.62,657.56L214.37,657.56L215.12,657.56L215.86,657.56L216.61,657.56L217.36,657.56L218.11,657.56L218.85,657.56L219.60,657.56L220.35,657.56L221.10,657.56L221.84,657.56L222.59,657.56L223.34,657.56L224.08,657.56L224.83,657.56L225.58,657.56L226.33,657.56L227.07,657.56L227.82,657.56L228.57,657.56L229.31,657.56L230.06,657.56L230.81,657.56L231.56,657.56L232.30,657.56L233.05,657.56L233.80,657.56L234.54,657.56L235.29,657.56L236.04,657.56L236.79,657.56" fill="none" stroke="#141414" stroke-width="1.6" stroke-dasharray="4.9,2.0" stroke-linejoin="round"/>
</g>
<path d="M42.51,657.56L43.26,657.56L44.01,657.56L44.76,657.56L45.50,657.56L46.25,657.56L47.00,657.56L47.74,657.56L48.49,657.56L49.24,657.56L49.99,657.56L50.73,657.56L51.48,657.56L52.23,657.56L52.97,657.56L53.72,657.56L54.47,657.56L55.22,657.56L55.96,657.56L56.71,657.56L57.46,657.56L58.20,657.56L58.95,657.56L59.70,657.56L60.45,657.56L61.19,657.56L61.94,657.56L62.69,657.56L63.44,657.56L64.18,657.56L64.93,657.56L65.68,657.56L66.42,657.56L67.17,657.56L67.92,657.56L68.67,657.56L69.41,657.56L70.16,657.56L70.91,657.56L71.65,657.56L72.40,657.56L73.15,657.56L73.90,657.56L74.64,657.56L75.39,657.56L76.14,657.56L76.88,657.56L77.63,657.56L78.38,657.56L79.13,657.56L79.87,657.56L80.62,657.56L81.37,657.56L82.12,657.56L82.86,657.56L83.61,657.56L84.36,657.56L85.10,657.56L85.85,657.56L86.60,657.56L87.35,657.56L88.09,657.56L88.84,657.56L89.59,657.56L90.33,657.56L91.08,657.56L91.83,657.56L92.58,657.56L93.32,657.56L94.07,657.56L94.82,657.56L95.57,657.56L96.31,657.56L97.06,657.56L97.81,657.56L98.55,657.56L99.30,657.56L100.05,657.56L100.80,657.56L101.54,657.56L102.29,657.56L103.04,657.56L103.78,657.56L104.53,657.56L105.28,657.56L106.03,657.56L106.77,657.56L107.52,657.56L108.27,657.55L109.01,657.55L109.76,657.55L110.51,657.54L111.26,657.54L112.00,657.53L112.75,657.52L113.50,657.50L114.25,657.48L114.99,657.45L115.74,657.42L116.49,657.36L117.23,657.30L117.98,657.21L118.73,657.10L119.48,656.96L120.22,656.77L120.97,656.54L121.72,656.26L122.46,655.91L123.21,655.48L123.96,654.95L124.71,654.32L125.45,653.58L126.20,652.69L126.95,651.66L127.69,650.46L128.44,649.09L129.19,647.53L129.94,645.78L130.68,643.84L131.43,641.69L132.18,639.36L132.93,636.84L133.67,634.16L134.42,631.34L135.17,628.42L135.91,625.42L136.66,622.39L137.41,619.37L138.16,616.43L138.90,613.60L139.65,610.95L140.40,608.53L141.14,606.39L141.89,604.57L142.64,603.11L143.39,602.06L144.13,601.43L144.88,601.24L145.63,601.49L146.37,602.18L147.12,603.29L147.87,604.79L148.62,606.65L149.36,608.84L150.11,611.29L150.86,613.97L151.61,616.82L152.35,619.77L153.10,622.79L153.85,625.82L154.59,628.81L155.34,631.73L156.09,634.53L156.84,637.18L157.58,639.68L158.33,641.99L159.08,644.11L159.82,646.03L160.57,647.75L161.32,649.29L162.07,650.63L162.81,651.81L163.56,652.82L164.31,653.68L165.05,654.42L165.80,655.03L166.55,655.54L167.30,655.96L168.04,656.30L168.79,656.58L169.54,656.80L170.29,656.98L171.03,657.12L171.78,657.22L172.53,657.31L173.27,657.37L174.02,657.42L174.77,657.46L175.52,657.49L176.26,657.51L177.01,657.52L177.76,657.53L178.50,657.54L179.25,657.55L180.00,657.55L180.75,657.55L181.49,657.55L182.24,657.56L182.99,657.56L183.73,657.56L184.48,657.56L185.23,657.56L185.98,657.56L186.72,657.56L187.47,657.56L188.22,657.56L188.97,657.56L189.71,657.56L190.46,657.56L191.21,657.56L191.95,657.56L192.70,657.56L193.45,657.56L194.20,657.56L194.94,657.56L195.69,657.56L196.44,657.56L197.18,657.56L197.93,657.56L198.68,657.56L199.43,657.56L200.17,657.56L200.92,657.56L201.67,657.56L202.42,657.56L203.16,657.56L203.91,657.56L204.66,657.56L205.40,657.56L206.15,657.56L206.90,657.56L207.65,657.56L208.39,657.56L209.14,657.56L209.89,657.56L210.63,657.56L211.38,657.56L212.13,657.56L212.88,657.56L213.62,657.56L214.37,657.56L215.12,657.56L215.86,657.56L216.61,657.56L217.36,657.56L218.11,657.56L218.85,657.56L219.60,657.56L220.35,657.56L221.10,657.56L221.84,657.56L222.59,657.56L223.34,657.56L224.08,657.56L224.83,657.56L225.58,657.56L226.33,657.56L227.07,657.56L227.82,657.56L228.57,657.56L229.31,657.56L230.06,657.56L230.81,657.56L231.56,657.56L232.30,657.56L233.05,657.56L233.80,657.56L234.54,657.56L235.29,657.56L236.04,657.56L236.79,657.56" fill="none" stroke="#736abd" stroke-width="1.3" stroke-linejoin="round"/>
<rect x="32.80" y="540.10" width="213.70" height="124.80" fill="none" stroke="#383838" stroke-width="1.35"/>
<line x1="27.40" y1="657.56" x2="32.80" y2="657.56" stroke="#383838" stroke-width="1.25"/>
<text x="17.07" y="662.66" font-size="15.0" fill="#262626" style="">0</text>
<line x1="27.40" y1="620.85" x2="32.80" y2="620.85" stroke="#383838" stroke-width="1.25"/>
<text x="17.40" y="625.95" font-size="15.0" fill="#262626" style="">1</text>
<line x1="27.40" y1="584.15" x2="32.80" y2="584.15" stroke="#383838" stroke-width="1.25"/>
<text x="17.33" y="589.25" font-size="15.0" fill="#262626" style="">2</text>
<line x1="27.40" y1="547.44" x2="32.80" y2="547.44" stroke="#383838" stroke-width="1.25"/>
<text x="17.09" y="552.54" font-size="15.0" fill="#262626" style="">3</text>
<line x1="74.89" y1="664.90" x2="74.89" y2="670.10" stroke="#383838" stroke-width="1.25"/>
<line x1="66.59" y1="679.40" x2="75.19" y2="679.40" stroke="#262626" stroke-width="0.95" />
<text x="76.96" y="683.60" font-size="15.0" fill="#262626" style="" textLength="7.23" lengthAdjust="spacingAndGlyphs">2</text>
<line x1="139.65" y1="664.90" x2="139.65" y2="670.10" stroke="#383838" stroke-width="1.25"/>
<text x="135.90" y="683.60" font-size="15.0" fill="#262626" style="">0</text>
<line x1="204.41" y1="664.90" x2="204.41" y2="670.10" stroke="#383838" stroke-width="1.25"/>
<text x="200.74" y="683.60" font-size="15.0" fill="#262626" style="">2</text>
<text x="40.69" y="558.60" font-size="15.0" fill="#262626" style="font-style:italic;" textLength="8.47" lengthAdjust="spacingAndGlyphs">σ</text>
<g stroke="#262626" stroke-width="0.95"><line x1="55.10" y1="553.40" x2="65.10" y2="553.40"/><line x1="55.10" y1="556.05" x2="65.10" y2="556.05"/></g>
<text x="69.65" y="558.60" font-size="15.0" fill="#262626" style="" textLength="25.46" lengthAdjust="spacingAndGlyphs">0.21</text>
<text fill-opacity="0.85" x="40.97" y="574.40" font-size="16.3" fill="#736abd" style="font-style:italic;" textLength="6.84" lengthAdjust="spacingAndGlyphs">δ</text>
<g stroke="#736abd" stroke-width="0.95" stroke-opacity="0.85"><line x1="53.30" y1="569.20" x2="63.20" y2="569.20"/><line x1="53.30" y1="571.85" x2="63.20" y2="571.85"/></g>
<text x="67.64" y="574.40" font-size="15.0" fill="#736abd" fill-opacity="0.85" textLength="25.86" lengthAdjust="spacingAndGlyphs">0.16</text>
<g stroke="#736abd" stroke-width="0.95" stroke-opacity="0.85"><line x1="94.70" y1="569.00" x2="104.60" y2="569.00"/><line x1="94.70" y1="573.60" x2="104.60" y2="573.60"/><line x1="99.65" y1="563.90" x2="99.65" y2="573.60"/></g>
<text x="105.14" y="574.40" font-size="15.0" fill="#736abd" fill-opacity="0.85" textLength="25.86" lengthAdjust="spacingAndGlyphs">0.26</text>
<text x="88.55" y="702.10" font-size="16.3" fill="#262626" style="font-style:italic;" textLength="7.15" lengthAdjust="spacingAndGlyphs">δ</text>
<text x="101.37" y="702.10" font-size="15.6" fill="#262626" style="" textLength="31.36" lengthAdjust="spacingAndGlyphs">Mass</text>
<text x="137.28" y="702.10" font-size="15.6" fill="#262626" style="" textLength="22.08" lengthAdjust="spacingAndGlyphs">[log</text>
<text x="164.00" y="702.10" font-size="15.6" fill="#262626" style="" textLength="12.20" lengthAdjust="spacingAndGlyphs">M</text>
<circle cx="181.50" cy="701.50" r="3.3" fill="none" stroke="#262626" stroke-width="0.75"/>
<circle cx="181.50" cy="701.50" r="0.75" fill="#262626"/>
<text x="186.18" y="702.10" font-size="15.0" fill="#262626" style="" textLength="2.99" lengthAdjust="spacingAndGlyphs">]</text>
<rect x="392.26" y="541.94" width="7.77" height="121.13" fill="#e7e7e7"/>
<mask id="m21" maskUnits="userSpaceOnUse" x="0" y="0" width="760" height="706"><rect width="760" height="706" fill="#fff"/><rect x="297.01" y="656.26" width="83.50" height="2.6" fill="#000"/><rect x="419.17" y="656.26" width="88.26" height="2.6" fill="#000"/></mask>
<g mask="url(#m21)">
<path d="M299.01,657.56L299.76,657.56L300.51,657.56L301.26,657.56L302.00,657.56L302.75,657.56L303.50,657.56L304.24,657.56L304.99,657.56L305.74,657.56L306.49,657.56L307.23,657.56L307.98,657.56L308.73,657.56L309.47,657.56L310.22,657.56L310.97,657.56L311.72,657.56L312.46,657.56L313.21,657.56L313.96,657.56L314.70,657.56L315.45,657.56L316.20,657.56L316.95,657.56L317.69,657.56L318.44,657.56L319.19,657.56L319.94,657.56L320.68,657.56L321.43,657.56L322.18,657.56L322.92,657.56L323.67,657.56L324.42,657.56L325.17,657.56L325.91,657.56L326.66,657.56L327.41,657.56L328.15,657.56L328.90,657.56L329.65,657.56L330.40,657.56L331.14,657.56L331.89,657.56L332.64,657.56L333.38,657.56L334.13,657.56L334.88,657.56L335.63,657.56L336.37,657.56L337.12,657.56L337.87,657.56L338.62,657.56L339.36,657.56L340.11,657.56L340.86,657.56L341.60,657.56L342.35,657.56L343.10,657.56L343.85,657.56L344.59,657.56L345.34,657.56L346.09,657.56L346.83,657.56L347.58,657.56L348.33,657.56L349.08,657.56L349.82,657.56L350.57,657.56L351.32,657.56L352.07,657.56L352.81,657.56L353.56,657.56L354.31,657.56L355.05,657.56L355.80,657.56L356.55,657.56L357.30,657.56L358.04,657.56L358.79,657.56L359.54,657.56L360.28,657.56L361.03,657.56L361.78,657.56L362.53,657.56L363.27,657.56L364.02,657.56L364.77,657.56L365.51,657.56L366.26,657.56L367.01,657.56L367.76,657.56L368.50,657.56L369.25,657.56L370.00,657.56L370.75,657.56L371.49,657.56L372.24,657.56L372.99,657.56L373.73,657.56L374.48,657.56L375.23,657.56L375.98,657.56L376.72,657.56L377.47,657.56L378.22,657.55L378.96,657.55L379.71,657.54L380.46,657.51L381.21,657.46L381.95,657.37L382.70,657.21L383.45,656.93L384.19,656.45L384.94,655.67L385.69,654.46L386.44,652.65L387.18,650.04L387.93,646.42L388.68,641.61L389.43,635.50L390.17,628.07L390.92,619.46L391.67,610.00L392.41,600.17L393.16,590.64L393.91,582.14L394.66,575.42L395.40,571.10L396.15,569.61L396.90,571.10L397.64,575.42L398.39,582.14L399.14,590.64L399.89,600.17L400.63,610.00L401.38,619.46L402.13,628.07L402.87,635.50L403.62,641.61L404.37,646.42L405.12,650.04L405.86,652.65L406.61,654.46L407.36,655.67L408.11,656.45L408.85,656.93L409.60,657.21L410.35,657.37L411.09,657.46L411.84,657.51L412.59,657.54L413.34,657.55L414.08,657.55L414.83,657.56L415.58,657.56L416.32,657.56L417.07,657.56L417.82,657.56L418.57,657.56L419.31,657.56L420.06,657.56L420.81,657.56L421.55,657.56L422.30,657.56L423.05,657.56L423.80,657.56L424.54,657.56L425.29,657.56L426.04,657.56L426.79,657.56L427.53,657.56L428.28,657.56L429.03,657.56L429.77,657.56L430.52,657.56L431.27,657.56L432.02,657.56L432.76,657.56L433.51,657.56L434.26,657.56L435.00,657.56L435.75,657.56L436.50,657.56L437.25,657.56L437.99,657.56L438.74,657.56L439.49,657.56L440.23,657.56L440.98,657.56L441.73,657.56L442.48,657.56L443.22,657.56L443.97,657.56L444.72,657.56L445.47,657.56L446.21,657.56L446.96,657.56L447.71,657.56L448.45,657.56L449.20,657.56L449.95,657.56L450.70,657.56L451.44,657.56L452.19,657.56L452.94,657.56L453.68,657.56L454.43,657.56L455.18,657.56L455.93,657.56L456.67,657.56L457.42,657.56L458.17,657.56L458.92,657.56L459.66,657.56L460.41,657.56L461.16,657.56L461.90,657.56L462.65,657.56L463.40,657.56L464.15,657.56L464.89,657.56L465.64,657.56L466.39,657.56L467.13,657.56L467.88,657.56L468.63,657.56L469.38,657.56L470.12,657.56L470.87,657.56L471.62,657.56L472.36,657.56L473.11,657.56L473.86,657.56L474.61,657.56L475.35,657.56L476.10,657.56L476.85,657.56L477.60,657.56L478.34,657.56L479.09,657.56L479.84,657.56L480.58,657.56L481.33,657.56L482.08,657.56L482.83,657.56L483.57,657.56L484.32,657.56L485.07,657.56L485.81,657.56L486.56,657.56L487.31,657.56L488.06,657.56L488.80,657.56L489.55,657.56L490.30,657.56L491.04,657.56L491.79,657.56L492.54,657.56L493.29,657.56" fill="none" stroke="#141414" stroke-width="1.6" stroke-dasharray="4.9,2.0" stroke-linejoin="round"/>
</g>
<path d="M299.01,657.56L299.76,657.56L300.51,657.56L301.26,657.56L302.00,657.56L302.75,657.56L303.50,657.56L304.24,657.56L304.99,657.56L305.74,657.56L306.49,657.56L307.23,657.56L307.98,657.56L308.73,657.56L309.47,657.56L310.22,657.56L310.97,657.56L311.72,657.56L312.46,657.56L313.21,657.56L313.96,657.56L314.70,657.56L315.45,657.56L316.20,657.56L316.95,657.56L317.69,657.56L318.44,657.56L319.19,657.56L319.94,657.56L320.68,657.56L321.43,657.56L322.18,657.56L322.92,657.56L323.67,657.56L324.42,657.56L325.17,657.56L325.91,657.56L326.66,657.56L327.41,657.56L328.15,657.56L328.90,657.56L329.65,657.56L330.40,657.56L331.14,657.56L331.89,657.56L332.64,657.56L333.38,657.56L334.13,657.56L334.88,657.56L335.63,657.56L336.37,657.56L337.12,657.56L337.87,657.56L338.62,657.56L339.36,657.56L340.11,657.56L340.86,657.56L341.60,657.56L342.35,657.56L343.10,657.56L343.85,657.56L344.59,657.56L345.34,657.56L346.09,657.56L346.83,657.56L347.58,657.56L348.33,657.56L349.08,657.56L349.82,657.56L350.57,657.56L351.32,657.56L352.07,657.56L352.81,657.56L353.56,657.56L354.31,657.56L355.05,657.56L355.80,657.56L356.55,657.56L357.30,657.56L358.04,657.56L358.79,657.56L359.54,657.56L360.28,657.56L361.03,657.56L361.78,657.56L362.53,657.56L363.27,657.56L364.02,657.56L364.77,657.56L365.51,657.56L366.26,657.56L367.01,657.56L367.76,657.56L368.50,657.56L369.25,657.56L370.00,657.56L370.75,657.56L371.49,657.56L372.24,657.56L372.99,657.56L373.73,657.56L374.48,657.55L375.23,657.55L375.98,657.54L376.72,657.53L377.47,657.51L378.22,657.48L378.96,657.43L379.71,657.37L380.46,657.27L381.21,657.12L381.95,656.91L382.70,656.62L383.45,656.22L384.19,655.68L384.94,654.96L385.69,654.03L386.44,652.83L387.18,651.32L387.93,649.47L388.68,647.23L389.43,644.57L390.17,641.49L390.92,638.00L391.67,634.12L392.41,629.92L393.16,625.48L393.91,620.91L394.66,616.34L395.40,611.95L396.15,607.88L396.90,604.30L397.64,601.36L398.39,599.20L399.14,597.91L399.89,597.55L400.63,598.15L401.38,599.66L402.13,602.03L402.87,605.14L403.62,608.86L404.37,613.02L405.12,617.48L405.86,622.05L406.61,626.60L407.36,631.00L408.11,635.13L408.85,638.91L409.60,642.30L410.35,645.28L411.09,647.82L411.84,649.97L412.59,651.73L413.34,653.15L414.08,654.28L414.83,655.16L415.58,655.83L416.32,656.33L417.07,656.70L417.82,656.97L418.57,657.16L419.31,657.29L420.06,657.39L420.81,657.45L421.55,657.49L422.30,657.51L423.05,657.53L423.80,657.54L424.54,657.55L425.29,657.55L426.04,657.56L426.79,657.56L427.53,657.56L428.28,657.56L429.03,657.56L429.77,657.56L430.52,657.56L431.27,657.56L432.02,657.56L432.76,657.56L433.51,657.56L434.26,657.56L435.00,657.56L435.75,657.56L436.50,657.56L437.25,657.56L437.99,657.56L438.74,657.56L439.49,657.56L440.23,657.56L440.98,657.56L441.73,657.56L442.48,657.56L443.22,657.56L443.97,657.56L444.72,657.56L445.47,657.56L446.21,657.56L446.96,657.56L447.71,657.56L448.45,657.56L449.20,657.56L449.95,657.56L450.70,657.56L451.44,657.56L452.19,657.56L452.94,657.56L453.68,657.56L454.43,657.56L455.18,657.56L455.93,657.56L456.67,657.56L457.42,657.56L458.17,657.56L458.92,657.56L459.66,657.56L460.41,657.56L461.16,657.56L461.90,657.56L462.65,657.56L463.40,657.56L464.15,657.56L464.89,657.56L465.64,657.56L466.39,657.56L467.13,657.56L467.88,657.56L468.63,657.56L469.38,657.56L470.12,657.56L470.87,657.56L471.62,657.56L472.36,657.56L473.11,657.56L473.86,657.56L474.61,657.56L475.35,657.56L476.10,657.56L476.85,657.56L477.60,657.56L478.34,657.56L479.09,657.56L479.84,657.56L480.58,657.56L481.33,657.56L482.08,657.56L482.83,657.56L483.57,657.56L484.32,657.56L485.07,657.56L485.81,657.56L486.56,657.56L487.31,657.56L488.06,657.56L488.80,657.56L489.55,657.56L490.30,657.56L491.04,657.56L491.79,657.56L492.54,657.56L493.29,657.56" fill="none" stroke="#736abd" stroke-width="1.3" stroke-linejoin="round"/>
<rect x="289.30" y="540.10" width="213.70" height="124.80" fill="none" stroke="#383838" stroke-width="1.35"/>
<line x1="283.90" y1="657.56" x2="289.30" y2="657.56" stroke="#383838" stroke-width="1.25"/>
<line x1="283.90" y1="620.85" x2="289.30" y2="620.85" stroke="#383838" stroke-width="1.25"/>
<line x1="283.90" y1="584.15" x2="289.30" y2="584.15" stroke="#383838" stroke-width="1.25"/>
<line x1="283.90" y1="547.44" x2="289.30" y2="547.44" stroke="#383838" stroke-width="1.25"/>
<line x1="335.44" y1="664.90" x2="335.44" y2="670.10" stroke="#383838" stroke-width="1.25"/>
<line x1="322.04" y1="679.40" x2="330.64" y2="679.40" stroke="#262626" stroke-width="0.95" />
<text x="331.91" y="683.60" font-size="15.0" fill="#262626" style="" textLength="17.99" lengthAdjust="spacingAndGlyphs">2.5</text>
<line x1="396.15" y1="664.90" x2="396.15" y2="670.10" stroke="#383838" stroke-width="1.25"/>
<text x="386.77" y="683.60" font-size="15.0" fill="#262626" style="">0.0</text>
<line x1="456.86" y1="664.90" x2="456.86" y2="670.10" stroke="#383838" stroke-width="1.25"/>
<text x="447.45" y="683.60" font-size="15.0" fill="#262626" style="">2.5</text>
<text x="297.19" y="558.60" font-size="15.0" fill="#262626" style="font-style:italic;" textLength="8.47" lengthAdjust="spacingAndGlyphs">σ</text>
<g stroke="#262626" stroke-width="0.95"><line x1="311.60" y1="553.40" x2="321.60" y2="553.40"/><line x1="311.60" y1="556.05" x2="321.60" y2="556.05"/></g>
<text x="326.15" y="558.60" font-size="15.0" fill="#262626" style="" textLength="25.46" lengthAdjust="spacingAndGlyphs">0.17</text>
<text fill-opacity="0.85" x="297.47" y="574.40" font-size="16.3" fill="#736abd" style="font-style:italic;" textLength="6.84" lengthAdjust="spacingAndGlyphs">δ</text>
<g stroke="#736abd" stroke-width="0.95" stroke-opacity="0.85"><line x1="309.80" y1="569.20" x2="319.70" y2="569.20"/><line x1="309.80" y1="571.85" x2="319.70" y2="571.85"/></g>
<text x="324.14" y="574.40" font-size="15.0" fill="#736abd" fill-opacity="0.85" textLength="25.86" lengthAdjust="spacingAndGlyphs">0.15</text>
<g stroke="#736abd" stroke-width="0.95" stroke-opacity="0.85"><line x1="351.20" y1="569.00" x2="361.10" y2="569.00"/><line x1="351.20" y1="573.60" x2="361.10" y2="573.60"/><line x1="356.15" y1="563.90" x2="356.15" y2="573.60"/></g>
<text x="361.64" y="574.40" font-size="15.0" fill="#736abd" fill-opacity="0.85" textLength="25.86" lengthAdjust="spacingAndGlyphs">0.25</text>
<text x="325.58" y="702.10" font-size="16.3" fill="#262626" style="font-style:italic;" textLength="6.73" lengthAdjust="spacingAndGlyphs">δ</text>
<text x="336.71" y="702.10" font-size="15.6" fill="#262626" style="" textLength="29.01" lengthAdjust="spacingAndGlyphs">SFR</text>
<text x="365.04" y="705.10" font-size="10.5" fill="#262626" style="" textLength="16.38" lengthAdjust="spacingAndGlyphs">100</text>
<text x="387.26" y="702.10" font-size="15.6" fill="#262626" style="" textLength="21.39" lengthAdjust="spacingAndGlyphs">[log</text>
<text x="413.17" y="702.10" font-size="15.6" fill="#262626" style="" textLength="13.16" lengthAdjust="spacingAndGlyphs">M</text>
<circle cx="430.60" cy="701.50" r="3.3" fill="none" stroke="#262626" stroke-width="0.75"/>
<circle cx="430.60" cy="701.50" r="0.75" fill="#262626"/>
<text x="434.67" y="702.10" font-size="16.8" fill="#262626" style="" textLength="15.49" lengthAdjust="spacingAndGlyphs">yr</text>
<text x="449.40" y="696.60" font-size="10.5" fill="#262626" style="" textLength="6.79" lengthAdjust="spacingAndGlyphs">−</text>
<text x="456.83" y="696.60" font-size="10.5" fill="#262626" style="" textLength="5.54" lengthAdjust="spacingAndGlyphs">1</text>
<text x="462.59" y="702.10" font-size="15.0" fill="#262626" style="" textLength="2.84" lengthAdjust="spacingAndGlyphs">]</text>
<mask id="m22" maskUnits="userSpaceOnUse" x="0" y="0" width="760" height="706"><rect width="760" height="706" fill="#fff"/><rect x="553.41" y="656.26" width="55.04" height="2.6" fill="#000"/><rect x="695.78" y="656.26" width="80.19" height="2.6" fill="#000"/></mask>
<g mask="url(#m22)">
<path d="M555.41,657.56L556.16,657.56L556.91,657.56L557.66,657.56L558.40,657.56L559.15,657.56L559.90,657.56L560.64,657.56L561.39,657.56L562.14,657.56L562.89,657.56L563.63,657.56L564.38,657.56L565.13,657.56L565.87,657.56L566.62,657.56L567.37,657.56L568.12,657.56L568.86,657.56L569.61,657.56L570.36,657.56L571.10,657.56L571.85,657.56L572.60,657.56L573.35,657.56L574.09,657.56L574.84,657.56L575.59,657.56L576.34,657.56L577.08,657.56L577.83,657.56L578.58,657.56L579.32,657.56L580.07,657.56L580.82,657.56L581.57,657.56L582.31,657.56L583.06,657.56L583.81,657.56L584.55,657.56L585.30,657.56L586.05,657.56L586.80,657.56L587.54,657.56L588.29,657.56L589.04,657.56L589.78,657.56L590.53,657.56L591.28,657.56L592.03,657.56L592.77,657.56L593.52,657.56L594.27,657.56L595.02,657.56L595.76,657.56L596.51,657.56L597.26,657.56L598.00,657.56L598.75,657.56L599.50,657.55L600.25,657.55L600.99,657.55L601.74,657.55L602.49,657.55L603.23,657.54L603.98,657.54L604.73,657.53L605.48,657.52L606.22,657.51L606.97,657.50L607.72,657.49L608.47,657.47L609.21,657.45L609.96,657.42L610.71,657.39L611.45,657.35L612.20,657.31L612.95,657.25L613.70,657.18L614.44,657.10L615.19,657.01L615.94,656.90L616.68,656.77L617.43,656.61L618.18,656.43L618.93,656.22L619.67,655.98L620.42,655.71L621.17,655.39L621.91,655.03L622.66,654.61L623.41,654.14L624.16,653.62L624.90,653.03L625.65,652.37L626.40,651.63L627.15,650.82L627.89,649.92L628.64,648.94L629.39,647.87L630.13,646.70L630.88,645.44L631.63,644.08L632.38,642.62L633.12,641.07L633.87,639.43L634.62,637.69L635.36,635.88L636.11,633.98L636.86,632.01L637.61,629.98L638.35,627.91L639.10,625.79L639.85,623.65L640.59,621.50L641.34,619.35L642.09,617.23L642.84,615.15L643.58,613.13L644.33,611.18L645.08,609.33L645.83,607.59L646.57,605.98L647.32,604.52L648.07,603.22L648.81,602.09L649.56,601.16L650.31,600.42L651.06,599.88L651.80,599.56L652.55,599.45L653.30,599.56L654.04,599.88L654.79,600.42L655.54,601.16L656.29,602.09L657.03,603.22L657.78,604.52L658.53,605.98L659.27,607.59L660.02,609.33L660.77,611.18L661.52,613.13L662.26,615.15L663.01,617.23L663.76,619.35L664.51,621.50L665.25,623.65L666.00,625.79L666.75,627.91L667.49,629.98L668.24,632.01L668.99,633.98L669.74,635.88L670.48,637.69L671.23,639.43L671.98,641.07L672.72,642.62L673.47,644.08L674.22,645.44L674.97,646.70L675.71,647.87L676.46,648.94L677.21,649.92L677.95,650.82L678.70,651.63L679.45,652.37L680.20,653.03L680.94,653.62L681.69,654.14L682.44,654.61L683.19,655.03L683.93,655.39L684.68,655.71L685.43,655.98L686.17,656.22L686.92,656.43L687.67,656.61L688.42,656.77L689.16,656.90L689.91,657.01L690.66,657.10L691.40,657.18L692.15,657.25L692.90,657.31L693.65,657.35L694.39,657.39L695.14,657.42L695.89,657.45L696.63,657.47L697.38,657.49L698.13,657.50L698.88,657.51L699.62,657.52L700.37,657.53L701.12,657.54L701.87,657.54L702.61,657.55L703.36,657.55L704.11,657.55L704.85,657.55L705.60,657.55L706.35,657.56L707.10,657.56L707.84,657.56L708.59,657.56L709.34,657.56L710.08,657.56L710.83,657.56L711.58,657.56L712.33,657.56L713.07,657.56L713.82,657.56L714.57,657.56L715.32,657.56L716.06,657.56L716.81,657.56L717.56,657.56L718.30,657.56L719.05,657.56L719.80,657.56L720.55,657.56L721.29,657.56L722.04,657.56L722.79,657.56L723.53,657.56L724.28,657.56L725.03,657.56L725.78,657.56L726.52,657.56L727.27,657.56L728.02,657.56L728.76,657.56L729.51,657.56L730.26,657.56L731.01,657.56L731.75,657.56L732.50,657.56L733.25,657.56L734.00,657.56L734.74,657.56L735.49,657.56L736.24,657.56L736.98,657.56L737.73,657.56L738.48,657.56L739.23,657.56L739.97,657.56L740.72,657.56L741.47,657.56L742.21,657.56L742.96,657.56L743.71,657.56L744.46,657.56L745.20,657.56L745.95,657.56L746.70,657.56L747.44,657.56L748.19,657.56L748.94,657.56L749.69,657.56" fill="none" stroke="#141414" stroke-width="1.6" stroke-dasharray="4.9,2.0" stroke-linejoin="round"/>
</g>
<path d="M555.41,657.56L556.16,657.56L556.91,657.56L557.66,657.56L558.40,657.56L559.15,657.56L559.90,657.56L560.64,657.56L561.39,657.56L562.14,657.56L562.89,657.56L563.63,657.56L564.38,657.56L565.13,657.56L565.87,657.56L566.62,657.56L567.37,657.56L568.12,657.56L568.86,657.56L569.61,657.56L570.36,657.56L571.10,657.56L571.85,657.56L572.60,657.56L573.35,657.56L574.09,657.56L574.84,657.56L575.59,657.56L576.34,657.56L577.08,657.56L577.83,657.56L578.58,657.56L579.32,657.56L580.07,657.56L580.82,657.56L581.57,657.56L582.31,657.56L583.06,657.56L583.81,657.56L584.55,657.56L585.30,657.56L586.05,657.56L586.80,657.56L587.54,657.56L588.29,657.56L589.04,657.56L589.78,657.56L590.53,657.56L591.28,657.56L592.03,657.56L592.77,657.55L593.52,657.55L594.27,657.55L595.02,657.55L595.76,657.55L596.51,657.55L597.26,657.54L598.00,657.54L598.75,657.53L599.50,657.53L600.25,657.52L600.99,657.51L601.74,657.50L602.49,657.49L603.23,657.48L603.98,657.46L604.73,657.44L605.48,657.41L606.22,657.38L606.97,657.34L607.72,657.30L608.47,657.25L609.21,657.19L609.96,657.13L610.71,657.05L611.45,656.95L612.20,656.85L612.95,656.72L613.70,656.58L614.44,656.42L615.19,656.23L615.94,656.02L616.68,655.79L617.43,655.52L618.18,655.21L618.93,654.87L619.67,654.49L620.42,654.07L621.17,653.60L621.91,653.08L622.66,652.51L623.41,651.88L624.16,651.19L624.90,650.44L625.65,649.63L626.40,648.75L627.15,647.80L627.89,646.78L628.64,645.70L629.39,644.54L630.13,643.31L630.88,642.01L631.63,640.65L632.38,639.22L633.12,637.73L633.87,636.19L634.62,634.59L635.36,632.95L636.11,631.28L636.86,629.57L637.61,627.84L638.35,626.10L639.10,624.36L639.85,622.63L640.59,620.91L641.34,619.23L642.09,617.60L642.84,616.02L643.58,614.50L644.33,613.07L645.08,611.73L645.83,610.48L646.57,609.36L647.32,608.35L648.07,607.47L648.81,606.73L649.56,606.14L650.31,605.69L651.06,605.40L651.80,605.27L652.55,605.29L653.30,605.47L654.04,605.81L654.79,606.30L655.54,606.94L656.29,607.72L657.03,608.64L657.78,609.68L658.53,610.85L659.27,612.12L660.02,613.49L660.77,614.95L661.52,616.48L662.26,618.08L663.01,619.73L663.76,621.42L664.51,623.14L665.25,624.88L666.00,626.62L666.75,628.36L667.49,630.08L668.24,631.78L668.99,633.45L669.74,635.08L670.48,636.66L671.23,638.19L671.98,639.66L672.72,641.07L673.47,642.41L674.22,643.69L674.97,644.89L675.71,646.03L676.46,647.10L677.21,648.09L677.95,649.02L678.70,649.88L679.45,650.67L680.20,651.40L680.94,652.07L681.69,652.69L682.44,653.24L683.19,653.75L683.93,654.20L684.68,654.61L685.43,654.98L686.17,655.31L686.92,655.60L687.67,655.86L688.42,656.09L689.16,656.29L689.91,656.47L690.66,656.63L691.40,656.76L692.15,656.88L692.90,656.98L693.65,657.07L694.39,657.15L695.14,657.21L695.89,657.27L696.63,657.32L697.38,657.36L698.13,657.39L698.88,657.42L699.62,657.44L700.37,657.46L701.12,657.48L701.87,657.49L702.61,657.51L703.36,657.52L704.11,657.52L704.85,657.53L705.60,657.54L706.35,657.54L707.10,657.54L707.84,657.55L708.59,657.55L709.34,657.55L710.08,657.55L710.83,657.55L711.58,657.56L712.33,657.56L713.07,657.56L713.82,657.56L714.57,657.56L715.32,657.56L716.06,657.56L716.81,657.56L717.56,657.56L718.30,657.56L719.05,657.56L719.80,657.56L720.55,657.56L721.29,657.56L722.04,657.56L722.79,657.56L723.53,657.56L724.28,657.56L725.03,657.56L725.78,657.56L726.52,657.56L727.27,657.56L728.02,657.56L728.76,657.56L729.51,657.56L730.26,657.56L731.01,657.56L731.75,657.56L732.50,657.56L733.25,657.56L734.00,657.56L734.74,657.56L735.49,657.56L736.24,657.56L736.98,657.56L737.73,657.56L738.48,657.56L739.23,657.56L739.97,657.56L740.72,657.56L741.47,657.56L742.21,657.56L742.96,657.56L743.71,657.56L744.46,657.56L745.20,657.56L745.95,657.56L746.70,657.56L747.44,657.56L748.19,657.56L748.94,657.56L749.69,657.56" fill="none" stroke="#736abd" stroke-width="1.3" stroke-linejoin="round"/>
<rect x="545.70" y="540.10" width="213.70" height="124.80" fill="none" stroke="#383838" stroke-width="1.35"/>
<line x1="540.30" y1="657.56" x2="545.70" y2="657.56" stroke="#383838" stroke-width="1.25"/>
<line x1="540.30" y1="620.85" x2="545.70" y2="620.85" stroke="#383838" stroke-width="1.25"/>
<line x1="540.30" y1="584.15" x2="545.70" y2="584.15" stroke="#383838" stroke-width="1.25"/>
<line x1="540.30" y1="547.44" x2="545.70" y2="547.44" stroke="#383838" stroke-width="1.25"/>
<line x1="555.41" y1="664.90" x2="555.41" y2="670.10" stroke="#383838" stroke-width="1.25"/>
<line x1="547.11" y1="679.40" x2="555.71" y2="679.40" stroke="#262626" stroke-width="0.95" />
<text x="557.48" y="683.60" font-size="15.0" fill="#262626" style="" textLength="7.23" lengthAdjust="spacingAndGlyphs">2</text>
<line x1="652.55" y1="664.90" x2="652.55" y2="670.10" stroke="#383838" stroke-width="1.25"/>
<text x="648.80" y="683.60" font-size="15.0" fill="#262626" style="">0</text>
<line x1="749.69" y1="664.90" x2="749.69" y2="670.10" stroke="#383838" stroke-width="1.25"/>
<text x="746.02" y="683.60" font-size="15.0" fill="#262626" style="">2</text>
<text x="553.59" y="558.60" font-size="15.0" fill="#262626" style="font-style:italic;" textLength="8.47" lengthAdjust="spacingAndGlyphs">σ</text>
<g stroke="#262626" stroke-width="0.95"><line x1="568.00" y1="553.40" x2="578.00" y2="553.40"/><line x1="568.00" y1="556.05" x2="578.00" y2="556.05"/></g>
<text x="582.55" y="558.60" font-size="15.0" fill="#262626" style="" textLength="25.46" lengthAdjust="spacingAndGlyphs">0.25</text>
<text fill-opacity="0.85" x="553.87" y="574.40" font-size="16.3" fill="#736abd" style="font-style:italic;" textLength="6.84" lengthAdjust="spacingAndGlyphs">δ</text>
<g stroke="#736abd" stroke-width="0.95" stroke-opacity="0.85"><line x1="566.20" y1="569.20" x2="576.10" y2="569.20"/><line x1="566.20" y1="571.85" x2="576.10" y2="571.85"/></g>
<text fill-opacity="0.85" x="580.43" y="574.40" font-size="15.0" fill="#736abd" style="" textLength="5.13" lengthAdjust="spacingAndGlyphs">-</text>
<text x="585.44" y="574.40" font-size="15.0" fill="#736abd" fill-opacity="0.85" textLength="25.86" lengthAdjust="spacingAndGlyphs">0.01</text>
<g stroke="#736abd" stroke-width="0.95" stroke-opacity="0.85"><line x1="612.50" y1="569.00" x2="622.40" y2="569.00"/><line x1="612.50" y1="573.60" x2="622.40" y2="573.60"/><line x1="617.45" y1="563.90" x2="617.45" y2="573.60"/></g>
<text x="622.94" y="574.40" font-size="15.0" fill="#736abd" fill-opacity="0.85" textLength="25.86" lengthAdjust="spacingAndGlyphs">0.28</text>
<text x="604.70" y="702.10" font-size="16.3" fill="#262626" style="font-style:italic;" textLength="6.42" lengthAdjust="spacingAndGlyphs">δ</text>
<text x="616.96" y="702.10" font-size="15.6" fill="#262626" style="" textLength="24.35" lengthAdjust="spacingAndGlyphs">Age</text>
<text x="645.57" y="702.10" font-size="15.6" fill="#262626" style="" textLength="22.40" lengthAdjust="spacingAndGlyphs">[log</text>
<text x="671.76" y="702.10" font-size="15.6" fill="#262626" style="" textLength="29.29" lengthAdjust="spacingAndGlyphs">Gyr]</text>
<text x="0" y="0" font-size="15.6" fill="#262626" textLength="47.30" lengthAdjust="spacingAndGlyphs" transform="translate(11.0,626.04) rotate(-90)">Density</text>
<text class="t" x="32.09" y="16.30" font-size="15.9" fill="#1a1a1a" style="" textLength="34.92" lengthAdjust="spacingAndGlyphs">IMF</text>
<text class="t" x="32.45" y="261.00" font-size="15.9" fill="#1a1a1a" style="" textLength="79.74" lengthAdjust="spacingAndGlyphs">Burstiness</text>
<text class="t" x="32.65" y="506.30" font-size="15.9" fill="#1a1a1a" style="" textLength="156.45" lengthAdjust="spacingAndGlyphs">Nebular abundances</text>
<rect x="203.0" y="0" width="29.9" height="10.8" fill="#e3e3e3"/>
<text x="242.98" y="10.70" font-size="15.6" fill="#262626" style="" textLength="281.06" lengthAdjust="spacingAndGlyphs">Scatter from using different SED-fitting codes</text>
<line x1="203.6" y1="25.6" x2="232.9" y2="25.6" stroke="#141414" stroke-width="1.6" stroke-dasharray="4.9,2.0"/>
<text x="243.96" y="30.80" font-size="15.6" fill="#262626" style="" textLength="177.09" lengthAdjust="spacingAndGlyphs">Formal reported uncertainty:</text>
<text x="427.18" y="30.80" font-size="15.6" fill="#262626" style="" textLength="52.85" lengthAdjust="spacingAndGlyphs">Chabrier</text>
<line x1="552.4" y1="5.6" x2="582.3" y2="5.6" stroke="#e27d4c" stroke-width="1.3"/>
<line x1="552.4" y1="25.5" x2="582.3" y2="25.5" stroke="#529c82" stroke-width="1.3"/>
<text x="592.60" y="10.80" font-size="15.6" fill="#262626" style="" textLength="115.62" lengthAdjust="spacingAndGlyphs">Shift from fiducial:</text>
<text x="715.00" y="10.80" font-size="15.6" fill="#262626" style="font-style:italic;" textLength="7.22" lengthAdjust="spacingAndGlyphs">x</text>
<g stroke="#262626" stroke-width="0.95"><line x1="726.60" y1="5.60" x2="736.30" y2="5.60"/><line x1="726.60" y1="8.25" x2="736.30" y2="8.25"/></g>
<text x="739.62" y="10.80" font-size="15.0" fill="#262626" style="" textLength="19.57" lengthAdjust="spacingAndGlyphs">1.8</text>
<text x="592.60" y="30.60" font-size="15.6" fill="#262626" style="" textLength="115.62" lengthAdjust="spacingAndGlyphs">Shift from fiducial:</text>
<text x="715.00" y="30.60" font-size="15.6" fill="#262626" style="font-style:italic;" textLength="7.22" lengthAdjust="spacingAndGlyphs">x</text>
<g stroke="#262626" stroke-width="0.95"><line x1="726.60" y1="25.40" x2="736.30" y2="25.40"/><line x1="726.60" y1="28.05" x2="736.30" y2="28.05"/></g>
<text x="740.34" y="30.60" font-size="15.0" fill="#262626" style="" textLength="18.84" lengthAdjust="spacingAndGlyphs">2.8</text>
<line x1="203.6" y1="251.0" x2="232.9" y2="251.0" stroke="#141414" stroke-width="1.6" stroke-dasharray="4.9,2.0"/>
<text x="243.96" y="256.60" font-size="15.6" fill="#262626" style="" textLength="177.09" lengthAdjust="spacingAndGlyphs">Formal reported uncertainty:</text>
<text x="426.56" y="256.60" font-size="15.6" fill="#262626" style="" textLength="71.00" lengthAdjust="spacingAndGlyphs">Prospector-</text>
<text x="497.80" y="256.60" font-size="15.6" fill="#262626" style="font-style:italic;" textLength="9.23" lengthAdjust="spacingAndGlyphs">β</text>
<text x="510.53" y="256.60" font-size="15.6" fill="#262626" style="" textLength="77.15" lengthAdjust="spacingAndGlyphs">(rising SFH)</text>
<line x1="203.2" y1="271.8" x2="232.9" y2="271.8" stroke="#58b3d1" stroke-width="1.3"/>
<text x="243.30" y="277.10" font-size="15.6" fill="#262626" style="" textLength="115.62" lengthAdjust="spacingAndGlyphs">Shift from fiducial:</text>
<text x="365.50" y="277.10" font-size="15.6" fill="#262626" style="" textLength="71.63" lengthAdjust="spacingAndGlyphs">bursty prior</text>
<line x1="203.6" y1="495.4" x2="232.9" y2="495.4" stroke="#141414" stroke-width="1.6" stroke-dasharray="4.9,2.0"/>
<text x="243.86" y="500.80" font-size="15.6" fill="#262626" style="" textLength="177.09" lengthAdjust="spacingAndGlyphs">Formal reported uncertainty:</text>
<text x="426.99" y="500.80" font-size="15.6" fill="#262626" style="" textLength="71.90" lengthAdjust="spacingAndGlyphs">Cloudy grid</text>
<line x1="203.2" y1="515.5" x2="232.9" y2="515.5" stroke="#736abd" stroke-width="1.3"/>
<text x="243.30" y="520.70" font-size="15.6" fill="#262626" style="" textLength="115.62" lengthAdjust="spacingAndGlyphs">Shift from fiducial:</text>
<text x="364.88" y="520.70" font-size="15.6" fill="#262626" style="" textLength="101.55" lengthAdjust="spacingAndGlyphs">Cloudy emulator</text>
</svg></body></html>
